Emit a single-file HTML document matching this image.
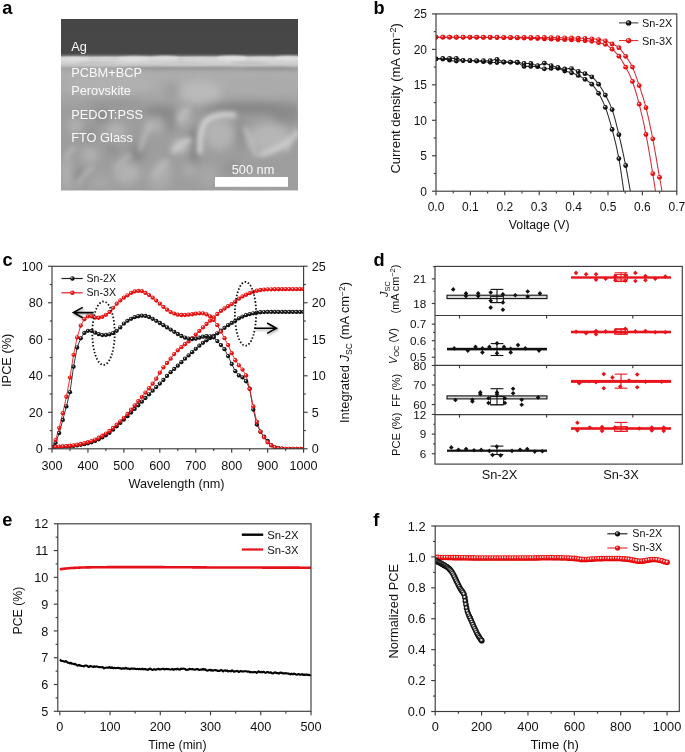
<!DOCTYPE html><html><head><meta charset="utf-8"><style>html,body{margin:0;padding:0;background:#fff;}svg{display:block;will-change:transform;}text{font-family:"Liberation Sans", sans-serif;}</style></head><body>
<svg width="685" height="752" viewBox="0 0 685 752">
<defs>
<radialGradient id="gB" cx="45%" cy="42%" r="60%" fx="36%" fy="33%"><stop offset="0" stop-color="#fff"/><stop offset="0.16" stop-color="#aaa"/><stop offset="0.36" stop-color="#222"/><stop offset="1" stop-color="#000"/></radialGradient>
<radialGradient id="gR" cx="45%" cy="42%" r="60%" fx="36%" fy="33%"><stop offset="0" stop-color="#fff"/><stop offset="0.16" stop-color="#ff9c9c"/><stop offset="0.38" stop-color="#ee1c1c"/><stop offset="1" stop-color="#d80000"/></radialGradient>
<radialGradient id="gBo" cx="45%" cy="42%" r="60%" fx="40%" fy="36%"><stop offset="0" stop-color="#fff"/><stop offset="0.22" stop-color="#ccc"/><stop offset="0.45" stop-color="#222"/><stop offset="1" stop-color="#000"/></radialGradient>
<radialGradient id="gRo" cx="45%" cy="42%" r="60%" fx="40%" fy="36%"><stop offset="0" stop-color="#fff"/><stop offset="0.22" stop-color="#ffb8b8"/><stop offset="0.45" stop-color="#ee1818"/><stop offset="1" stop-color="#dd0000"/></radialGradient>
<filter id="blur1" x="-20%" y="-20%" width="140%" height="140%"><feGaussianBlur stdDeviation="1.2"/></filter>
<filter id="blur2" x="-30%" y="-30%" width="160%" height="160%"><feGaussianBlur stdDeviation="2.5"/></filter>
<filter id="blur3" x="-30%" y="-30%" width="160%" height="160%"><feGaussianBlur stdDeviation="4"/></filter>
<filter id="shadow" x="-20%" y="-50%" width="160%" height="200%"><feGaussianBlur stdDeviation="1"/></filter>
<clipPath id="clipB"><rect x="436" y="13.9" width="240.8" height="177.3"/></clipPath>
<clipPath id="clipC"><rect x="52" y="266.3" width="251.6" height="182.5"/></clipPath>
<clipPath id="clipF"><rect x="435.2" y="400" width="250" height="311.5"/></clipPath>
<clipPath id="clipSEM"><rect x="61" y="19" width="237" height="171.5"/></clipPath>
</defs>
<text x="2.3" y="13.6" font-size="18.2" text-anchor="start" font-weight="bold" fill="#000">a</text>
<g clip-path="url(#clipSEM)">
<rect x="61" y="19" width="237" height="171.5" fill="#999"/>
<linearGradient id="semV" x1="0" y1="19" x2="0" y2="190.5" gradientUnits="userSpaceOnUse">
<stop offset="0" stop-color="#464646"/>
<stop offset="0.2" stop-color="#474747"/>
<stop offset="0.212" stop-color="#6e6e6e"/>
<stop offset="0.224" stop-color="#cdcdcd"/>
<stop offset="0.258" stop-color="#d0d0d0"/>
<stop offset="0.272" stop-color="#c2c2c2"/>
<stop offset="0.287" stop-color="#a4a4a4"/>
<stop offset="0.30" stop-color="#a8a8a8"/>
<stop offset="0.327" stop-color="#adadad"/>
<stop offset="0.414" stop-color="#aaa"/>
<stop offset="0.484" stop-color="#a2a2a2"/>
<stop offset="0.53" stop-color="#9d9d9d"/>
<stop offset="1" stop-color="#9e9e9e"/>
</linearGradient>
<rect x="61" y="19" width="237" height="171.5" fill="url(#semV)"/>
<g filter="url(#blur1)">
<ellipse cx="75" cy="59.5" rx="16" ry="2.4" fill="#dedede"/>
<ellipse cx="105" cy="60" rx="16" ry="2.2" fill="#d4d4d4"/>
<ellipse cx="135" cy="59" rx="18" ry="2.6" fill="#e0e0e0"/>
<ellipse cx="165" cy="58.5" rx="14" ry="2.4" fill="#dcdcdc"/>
<ellipse cx="200" cy="60" rx="18" ry="2.4" fill="#d4d4d4"/>
<ellipse cx="232" cy="58.5" rx="16" ry="2.8" fill="#e0e0e0"/>
<ellipse cx="262" cy="59.5" rx="14" ry="2.4" fill="#d8d8d8"/>
<ellipse cx="288" cy="58.5" rx="14" ry="2.6" fill="#dedede"/>
<ellipse cx="95" cy="63" rx="20" ry="1.8" fill="#c4c4c4"/>
<ellipse cx="185" cy="63.5" rx="25" ry="1.8" fill="#c8c8c8"/>
<ellipse cx="250" cy="63" rx="20" ry="1.8" fill="#c2c2c2"/>
<ellipse cx="190" cy="68.5" rx="75" ry="1.5" fill="#9a9a9a"/>
<ellipse cx="270" cy="68.8" rx="30" ry="1.6" fill="#969696"/>
</g>
<g filter="url(#blur3)">
<ellipse cx="200" cy="92" rx="22" ry="12" fill="#bababa"/>
<ellipse cx="110" cy="84" rx="45" ry="9" fill="#b1b1b1"/>
<ellipse cx="262" cy="86" rx="32" ry="9" fill="#ababab"/>
<ellipse cx="172" cy="92" rx="8" ry="10" fill="#9e9e9e"/>
<ellipse cx="250" cy="108" rx="50" ry="5" fill="#828282"/>
<ellipse cx="160" cy="112" rx="16" ry="6" fill="#878787"/>
<ellipse cx="115" cy="104" rx="30" ry="4" fill="#959595"/>
<ellipse cx="102" cy="116" rx="7" ry="7" fill="#888"/>
<ellipse cx="137" cy="153" rx="7" ry="10" fill="#868686"/>
<ellipse cx="170" cy="119" rx="5" ry="13" fill="#888"/>
<ellipse cx="78" cy="175" rx="6" ry="7" fill="#898989"/>
<ellipse cx="90" cy="135" rx="6" ry="8" fill="#8e8e8e"/>
<ellipse cx="150" cy="180" rx="8" ry="8" fill="#8e8e8e"/>
<ellipse cx="112" cy="150" rx="6" ry="6" fill="#8f8f8f"/>
<ellipse cx="75" cy="126" rx="7" ry="7" fill="#b4b4b4"/>
<ellipse cx="90" cy="155" rx="8" ry="8" fill="#b2b2b2"/>
<ellipse cx="116" cy="131" rx="10" ry="8" fill="#b4b4b4"/>
<ellipse cx="154" cy="125" rx="10" ry="8" fill="#b0b0b0"/>
<ellipse cx="67" cy="174" rx="6" ry="16" fill="#b0b0b0"/>
<ellipse cx="127" cy="173" rx="13" ry="11" fill="#b2b2b2"/>
<ellipse cx="158" cy="178" rx="13" ry="12" fill="#aaa"/>
<ellipse cx="100" cy="183" rx="10" ry="7" fill="#a8a8a8"/>
<ellipse cx="194" cy="146" rx="4.5" ry="20" fill="#7e7e7e"/>
<ellipse cx="285" cy="116" rx="14" ry="8" fill="#8c8c8c"/>
<ellipse cx="241" cy="133" rx="4" ry="16" fill="#8a8a8a"/>
<ellipse cx="219" cy="134" rx="15" ry="16" fill="#b3b3b3"/>
<ellipse cx="270" cy="138" rx="22" ry="15" fill="#b6b6b6"/>
<ellipse cx="184" cy="117" rx="7" ry="10" fill="#b3b3b3"/>
<ellipse cx="181" cy="146" rx="9" ry="6" fill="#c4c4c4"/>
<ellipse cx="255" cy="182" rx="22" ry="8" fill="#a4a4a4"/>
<ellipse cx="163" cy="168" rx="7" ry="8" fill="#b2b2b2"/>
<ellipse cx="208" cy="176" rx="9" ry="10" fill="#a8a8a8"/>
<ellipse cx="190" cy="170" rx="6" ry="6" fill="#b0b0b0"/>
<ellipse cx="232" cy="168" rx="8" ry="8" fill="#939393"/>
</g>
<g filter="url(#blur2)" fill="none" stroke-linecap="round">
<path d="M200 152 Q199 128 207 120 Q218 113 234 115" stroke="#d8d8d8" stroke-width="5"/>
<path d="M262 154 Q280 149 297 134" stroke="#d0d0d0" stroke-width="5"/>
<path d="M174 151 Q180 143 189 140" stroke="#cacaca" stroke-width="5"/>
<path d="M180 120 Q183 112 188 110" stroke="#c0c0c0" stroke-width="4"/>
<path d="M66 158 Q70 150 74 148" stroke="#bababa" stroke-width="3.5"/>
<path d="M140 150 Q144 135 150 125" stroke="#bcbcbc" stroke-width="3.5"/>
<path d="M78 184 Q84 174 92 168" stroke="#b8b8b8" stroke-width="3.5"/>
<path d="M116 168 Q122 160 130 155" stroke="#b6b6b6" stroke-width="3.5"/>
<path d="M155 176 Q160 167 166 162" stroke="#bababa" stroke-width="4"/>
<path d="M245 128 Q250 140 256 155" stroke="#c0c0c0" stroke-width="4"/>
<path d="M286 150 Q292 140 296 130" stroke="#c6c6c6" stroke-width="3"/>
</g>
</g>
<text x="71.2" y="50.9" font-size="12.8" text-anchor="start" font-weight="normal" fill="#fafafa">Ag</text>
<text x="71.2" y="76.8" font-size="12.8" text-anchor="start" font-weight="normal" fill="#fafafa">PCBM+BCP</text>
<text x="71.2" y="95.4" font-size="12.8" text-anchor="start" font-weight="normal" fill="#fafafa">Perovskite</text>
<text x="71.2" y="119" font-size="12.8" text-anchor="start" font-weight="normal" fill="#fafafa">PEDOT:PSS</text>
<text x="71.2" y="141.6" font-size="12.8" text-anchor="start" font-weight="normal" fill="#fafafa">FTO Glass</text>
<text x="274.4" y="173.9" font-size="12.8" text-anchor="end" font-weight="normal" fill="#f8f8f8">500 nm</text>
<rect x="215" y="177" width="73" height="9.8" fill="#fff"/>
<text x="373.5" y="13.6" font-size="18.2" text-anchor="start" font-weight="bold" fill="#000">b</text>
<g clip-path="url(#clipB)">
<polyline points="436,58.79 436.97,58.8 437.94,58.83 438.9,58.86 439.87,58.91 440.84,58.96 441.81,59.01 442.78,59.07 443.74,59.15 444.71,59.26 445.68,59.41 446.65,59.58 447.62,59.76 448.58,59.96 449.55,60.16 450.52,60.36 451.49,60.55 452.46,60.71 453.42,60.86 454.39,60.97 455.36,61.04 456.33,61.06 457.3,61.03 458.26,60.96 459.23,60.87 460.2,60.76 461.17,60.67 462.14,60.6 463.11,60.57 464.07,60.57 465.04,60.58 466.01,60.6 466.98,60.62 467.95,60.64 468.91,60.67 469.88,60.69 470.85,60.72 471.82,60.76 472.79,60.8 473.75,60.86 474.72,60.92 475.69,60.99 476.66,61.07 477.63,61.15 478.59,61.24 479.56,61.32 480.53,61.42 481.5,61.51 482.47,61.61 483.43,61.7 484.4,61.79 485.37,61.89 486.34,61.98 487.31,62.06 488.27,62.15 489.24,62.22 490.21,62.29 491.18,62.36 492.15,62.41 493.11,62.46 494.08,62.5 495.05,62.53 496.02,62.55 496.99,62.55 497.95,62.52 498.92,62.46 499.89,62.38 500.86,62.29 501.83,62.21 502.79,62.15 503.76,62.13 504.73,62.13 505.7,62.13 506.67,62.14 507.63,62.15 508.6,62.17 509.57,62.19 510.54,62.21 511.51,62.24 512.48,62.27 513.44,62.3 514.41,62.34 515.38,62.39 516.35,62.44 517.32,62.49 518.28,62.79 519.25,63.38 520.22,64.14 521.19,64.94 522.16,65.67 523.12,66.19 524.09,66.38 525.06,66.38 526.03,66.38 527,66.38 527.96,66.38 528.93,66.38 529.9,66.38 530.87,66.38 531.84,66.38 532.8,66.38 533.77,66.38 534.74,66.38 535.71,66.38 536.68,66.47 537.64,66.74 538.61,67.12 539.58,67.56 540.55,68.01 541.52,68.41 542.48,68.71 543.45,68.86 544.42,68.86 545.39,68.83 546.36,68.78 547.32,68.72 548.29,68.65 549.26,68.57 550.23,68.49 551.2,68.41 552.16,68.34 553.13,68.27 554.1,68.21 555.07,68.18 556.04,68.16 557.01,68.19 557.97,68.37 558.94,68.67 559.91,69.06 560.88,69.5 561.85,69.95 562.81,70.37 563.78,70.72 564.75,71 565.72,71.25 566.69,71.49 567.65,71.72 568.62,71.96 569.59,72.21 570.56,72.5 571.53,72.81 572.49,73.13 573.46,73.48 574.43,73.85 575.4,74.23 576.37,74.63 577.33,75.05 578.3,75.49 579.27,75.97 580.24,76.48 581.21,77.02 582.17,77.58 583.14,78.16 584.11,78.76 585.08,79.37 586.05,79.97 587.01,80.57 587.98,81.2 588.95,81.86 589.92,82.58 590.89,83.37 591.85,84.24 592.82,85.25 593.79,86.38 594.76,87.61 595.73,88.95 596.69,90.37 597.66,91.85 598.63,93.4 599.6,95.05 600.57,96.83 601.53,98.73 602.5,100.75 603.47,102.89 604.44,105.16 605.41,107.56 606.38,110.18 607.34,113.02 608.31,116.07 609.28,119.29 610.25,122.66 611.22,126.14 612.18,129.7 613.15,133.35 614.12,137.1 615.09,141.01 616.06,145.12 617.02,149.46 617.99,154.09 618.96,159.03 619.93,164.64 620.9,171.05 621.86,177.85 622.83,184.65 623.8,191.05 624.77,197.03 625.74,202.87 626.7,208.58 627.67,214.15 628.64,219.57" fill="none" stroke="#2a2a2a" stroke-width="1.05" stroke-linejoin="round"/>
<polyline points="436,58.79 437,58.74 438.01,58.69 439.01,58.64 440.01,58.6 441.01,58.55 442.02,58.52 443.02,58.48 444.02,58.45 445.02,58.42 446.03,58.4 447.03,58.38 448.03,58.37 449.03,58.37 450.04,58.37 451.04,58.37 452.04,58.37 453.04,58.37 454.05,58.37 455.05,58.37 456.05,58.37 457.05,58.43 458.06,58.67 459.06,59.04 460.06,59.45 461.07,59.85 462.07,60.17 463.07,60.35 464.07,60.4 465.08,60.44 466.08,60.47 467.08,60.5 468.08,60.53 469.09,60.55 470.09,60.56 471.09,60.57 472.09,60.59 473.1,60.6 474.1,60.61 475.1,60.62 476.1,60.63 477.11,60.64 478.11,60.65 479.11,60.66 480.11,60.67 481.12,60.67 482.12,60.68 483.12,60.69 484.13,60.69 485.13,60.7 486.13,60.7 487.13,60.7 488.14,60.71 489.14,60.71 490.14,60.71 491.14,60.6 492.15,60.38 493.15,60.09 494.15,59.78 495.15,59.51 496.16,59.33 497.16,59.3 498.16,59.53 499.16,59.96 500.17,60.51 501.17,61.09 502.17,61.58 503.18,61.91 504.18,62 505.18,62.02 506.18,62.05 507.19,62.06 508.19,62.07 509.19,62.08 510.19,62.09 511.2,62.1 512.2,62.11 513.2,62.12 514.2,62.13 515.21,62.15 516.21,62.17 517.21,62.2 518.21,62.29 519.22,62.48 520.22,62.72 521.22,62.98 522.22,63.2 523.23,63.36 524.23,63.4 525.23,63.4 526.24,63.4 527.24,63.4 528.24,63.4 529.24,63.4 530.25,63.4 531.25,63.46 532.25,63.73 533.25,64.15 534.26,64.64 535.26,65.11 536.26,65.48 537.26,65.67 538.27,65.58 539.27,65.26 540.27,64.78 541.27,64.24 542.28,63.73 543.28,63.35 544.28,63.19 545.28,63.28 546.29,63.55 547.29,63.95 548.29,64.41 549.3,64.89 550.3,65.34 551.3,65.69 552.3,65.97 553.31,66.23 554.31,66.47 555.31,66.7 556.31,66.94 557.32,67.18 558.32,67.46 559.32,67.8 560.32,68.16 561.33,68.51 562.33,68.79 563.33,68.97 564.33,69 565.34,68.95 566.34,68.86 567.34,68.74 568.34,68.64 569.35,68.55 570.35,68.51 571.35,68.58 572.36,68.81 573.36,69.18 574.36,69.62 575.36,70.12 576.37,70.61 577.37,71.07 578.37,71.45 579.37,71.79 580.38,72.12 581.38,72.45 582.38,72.77 583.38,73.11 584.39,73.47 585.39,73.85 586.39,74.23 587.39,74.61 588.4,75.02 589.4,75.46 590.4,75.97 591.41,76.54 592.41,77.25 593.41,78.12 594.41,79.12 595.42,80.24 596.42,81.44 597.42,82.69 598.42,83.97 599.43,85.31 600.43,86.76 601.43,88.31 602.43,89.95 603.44,91.65 604.44,93.42 605.44,95.25 606.44,97.1 607.45,99.01 608.45,101.01 609.45,103.13 610.45,105.41 611.46,107.87 612.46,110.57 613.46,113.65 614.47,117.1 615.47,120.84 616.47,124.78 617.47,128.86 618.48,132.99 619.48,137.12 620.48,141.37 621.48,145.76 622.49,150.3 623.49,154.97 624.49,159.78 625.49,164.71 626.5,169.86 627.5,175.28 628.5,180.85 629.5,186.47 630.51,192 631.51,197.5 632.51,203 633.51,208.51 634.52,214.04 635.52,219.57" fill="none" stroke="#2a2a2a" stroke-width="1.05" stroke-linejoin="round"/>
<polyline points="436,37.16 437.12,37.16 438.25,37.16 439.37,37.17 440.49,37.17 441.62,37.17 442.74,37.17 443.87,37.18 444.99,37.18 446.11,37.18 447.24,37.19 448.36,37.19 449.48,37.2 450.61,37.2 451.73,37.21 452.85,37.21 453.98,37.22 455.1,37.22 456.23,37.23 457.35,37.23 458.47,37.24 459.6,37.24 460.72,37.25 461.84,37.25 462.97,37.26 464.09,37.27 465.21,37.27 466.34,37.28 467.46,37.29 468.58,37.29 469.71,37.3 470.83,37.31 471.96,37.31 473.08,37.32 474.2,37.33 475.33,37.34 476.45,37.34 477.57,37.35 478.7,37.36 479.82,37.37 480.94,37.38 482.07,37.39 483.19,37.4 484.32,37.41 485.44,37.42 486.56,37.43 487.69,37.44 488.81,37.45 489.93,37.47 491.06,37.48 492.18,37.49 493.3,37.5 494.43,37.52 495.55,37.53 496.68,37.55 497.8,37.56 498.92,37.58 500.05,37.59 501.17,37.61 502.29,37.62 503.42,37.64 504.54,37.65 505.66,37.67 506.79,37.69 507.91,37.71 509.04,37.73 510.16,37.75 511.28,37.78 512.41,37.8 513.53,37.83 514.65,37.85 515.78,37.88 516.9,37.91 518.02,37.94 519.15,37.97 520.27,38 521.39,38.03 522.52,38.06 523.64,38.1 524.77,38.13 525.89,38.16 527.01,38.2 528.14,38.23 529.26,38.27 530.38,38.3 531.51,38.34 532.63,38.38 533.75,38.42 534.88,38.46 536,38.5 537.13,38.55 538.25,38.6 539.37,38.65 540.5,38.7 541.62,38.75 542.74,38.8 543.87,38.86 544.99,38.91 546.11,38.97 547.24,39.02 548.36,39.08 549.49,39.13 550.61,39.18 551.73,39.23 552.86,39.28 553.98,39.33 555.1,39.38 556.23,39.42 557.35,39.47 558.47,39.51 559.6,39.54 560.72,39.58 561.85,39.62 562.97,39.65 564.09,39.68 565.22,39.71 566.34,39.75 567.46,39.78 568.59,39.82 569.71,39.85 570.83,39.89 571.96,39.93 573.08,39.97 574.21,40.01 575.33,40.06 576.45,40.11 577.58,40.17 578.7,40.23 579.82,40.29 580.95,40.35 582.07,40.43 583.19,40.5 584.32,40.59 585.44,40.68 586.56,40.77 587.69,40.88 588.81,40.99 589.94,41.11 591.06,41.24 592.18,41.4 593.31,41.61 594.43,41.84 595.55,42.09 596.68,42.34 597.8,42.58 598.92,42.79 600.05,42.99 601.17,43.2 602.3,43.43 603.42,43.7 604.54,44.04 605.67,44.5 606.79,45.12 607.91,45.88 609.04,46.72 610.16,47.62 611.28,48.53 612.41,49.45 613.53,50.43 614.66,51.47 615.78,52.6 616.9,53.81 618.03,55.1 619.15,56.52 620.27,58.11 621.4,59.84 622.52,61.69 623.64,63.62 624.77,65.61 625.89,67.63 627.02,69.69 628.14,71.84 629.26,74.11 630.39,76.53 631.51,79.15 632.63,82.01 633.76,85.22 634.88,88.73 636,92.49 637.13,96.47 638.25,100.6 639.37,104.85 640.5,109.32 641.62,114.04 642.75,119 643.87,124.17 644.99,129.56 646.12,135.15 647.24,141.08 648.36,147.34 649.49,153.87 650.61,160.59 651.73,167.43 652.86,174.32 653.98,181.43 655.11,188.77 656.23,196.25 657.35,203.87 658.48,211.64 659.6,219.57" fill="none" stroke="#d22a3a" stroke-width="1.05" stroke-linejoin="round"/>
<polyline points="436,37.16 437.16,37.16 438.32,37.16 439.47,37.16 440.63,37.16 441.79,37.16 442.95,37.16 444.11,37.16 445.27,37.16 446.42,37.16 447.58,37.16 448.74,37.16 449.9,37.16 451.06,37.16 452.21,37.16 453.37,37.16 454.53,37.16 455.69,37.16 456.85,37.16 458.01,37.16 459.16,37.16 460.32,37.16 461.48,37.16 462.64,37.16 463.8,37.16 464.95,37.16 466.11,37.16 467.27,37.16 468.43,37.16 469.59,37.16 470.75,37.16 471.9,37.16 473.06,37.16 474.22,37.17 475.38,37.17 476.54,37.17 477.69,37.17 478.85,37.18 480.01,37.18 481.17,37.19 482.33,37.19 483.49,37.2 484.64,37.2 485.8,37.21 486.96,37.21 488.12,37.22 489.28,37.22 490.43,37.23 491.59,37.24 492.75,37.24 493.91,37.25 495.07,37.26 496.23,37.26 497.38,37.27 498.54,37.27 499.7,37.28 500.86,37.29 502.02,37.29 503.18,37.3 504.33,37.3 505.49,37.31 506.65,37.31 507.81,37.32 508.97,37.32 510.12,37.32 511.28,37.33 512.44,37.33 513.6,37.34 514.76,37.34 515.92,37.34 517.07,37.35 518.23,37.35 519.39,37.35 520.55,37.36 521.71,37.36 522.86,37.37 524.02,37.37 525.18,37.38 526.34,37.38 527.5,37.38 528.66,37.39 529.81,37.39 530.97,37.4 532.13,37.41 533.29,37.41 534.45,37.42 535.6,37.42 536.76,37.43 537.92,37.44 539.08,37.44 540.24,37.45 541.4,37.46 542.55,37.47 543.71,37.48 544.87,37.49 546.03,37.51 547.19,37.52 548.34,37.53 549.5,37.55 550.66,37.56 551.82,37.58 552.98,37.6 554.14,37.61 555.29,37.63 556.45,37.65 557.61,37.67 558.77,37.69 559.93,37.71 561.08,37.74 562.24,37.76 563.4,37.78 564.56,37.81 565.72,37.83 566.88,37.86 568.03,37.88 569.19,37.91 570.35,37.93 571.51,37.96 572.67,37.99 573.82,38.02 574.98,38.05 576.14,38.08 577.3,38.11 578.46,38.15 579.62,38.19 580.77,38.23 581.93,38.28 583.09,38.32 584.25,38.37 585.41,38.43 586.56,38.48 587.72,38.54 588.88,38.61 590.04,38.68 591.2,38.75 592.36,38.84 593.51,38.95 594.67,39.07 595.83,39.2 596.99,39.34 598.15,39.49 599.3,39.64 600.46,39.8 601.62,39.98 602.78,40.18 603.94,40.42 605.1,40.71 606.25,41.12 607.41,41.63 608.57,42.21 609.73,42.81 610.89,43.41 612.05,43.97 613.2,44.49 614.36,45.01 615.52,45.56 616.68,46.17 617.84,46.89 618.99,47.78 620.15,48.95 621.31,50.34 622.47,51.89 623.63,53.53 624.79,55.17 625.94,56.76 627.1,58.35 628.26,60 629.42,61.74 630.58,63.63 631.73,65.71 632.89,68.08 634.05,70.84 635.21,73.9 636.37,77.17 637.53,80.57 638.68,84.01 639.84,87.42 641,90.89 642.16,94.48 643.32,98.22 644.47,102.17 645.63,106.38 646.79,110.91 647.95,115.82 649.11,121.05 650.27,126.53 651.42,132.2 652.58,138.02 653.74,144.06 654.9,150.48 656.06,157.14 657.21,163.92 658.37,170.69 659.53,177.34 660.69,183.74 661.85,190.26 663.01,197.18 664.16,204.36 665.32,211.82 666.48,219.57" fill="none" stroke="#d22a3a" stroke-width="1.05" stroke-linejoin="round"/>
<circle cx="436" cy="58.79" r="2.4" fill="url(#gB)"/>
<circle cx="442.77" cy="59.07" r="2.4" fill="url(#gB)"/>
<circle cx="449.55" cy="60.16" r="2.4" fill="url(#gB)"/>
<circle cx="456.32" cy="61.06" r="2.4" fill="url(#gB)"/>
<circle cx="463.09" cy="60.57" r="2.4" fill="url(#gB)"/>
<circle cx="469.87" cy="60.69" r="2.4" fill="url(#gB)"/>
<circle cx="476.64" cy="61.07" r="2.4" fill="url(#gB)"/>
<circle cx="483.41" cy="61.7" r="2.4" fill="url(#gB)"/>
<circle cx="490.19" cy="62.29" r="2.4" fill="url(#gB)"/>
<circle cx="496.96" cy="62.55" r="2.4" fill="url(#gB)"/>
<circle cx="503.73" cy="62.13" r="2.4" fill="url(#gB)"/>
<circle cx="510.51" cy="62.21" r="2.4" fill="url(#gB)"/>
<circle cx="517.28" cy="62.49" r="2.4" fill="url(#gB)"/>
<circle cx="524.05" cy="66.38" r="2.4" fill="url(#gB)"/>
<circle cx="530.83" cy="66.38" r="2.4" fill="url(#gB)"/>
<circle cx="537.6" cy="66.72" r="2.4" fill="url(#gB)"/>
<circle cx="544.37" cy="68.86" r="2.4" fill="url(#gB)"/>
<circle cx="551.15" cy="68.42" r="2.4" fill="url(#gB)"/>
<circle cx="557.92" cy="68.36" r="2.4" fill="url(#gB)"/>
<circle cx="564.69" cy="70.98" r="2.4" fill="url(#gB)"/>
<circle cx="571.47" cy="72.79" r="2.4" fill="url(#gB)"/>
<circle cx="578.24" cy="75.47" r="2.4" fill="url(#gB)"/>
<circle cx="585.01" cy="79.33" r="2.4" fill="url(#gB)"/>
<circle cx="591.79" cy="84.18" r="2.4" fill="url(#gB)"/>
<circle cx="598.56" cy="93.29" r="2.4" fill="url(#gB)"/>
<circle cx="605.33" cy="107.38" r="2.4" fill="url(#gB)"/>
<circle cx="612.11" cy="129.42" r="2.4" fill="url(#gB)"/>
<circle cx="618.88" cy="158.61" r="2.4" fill="url(#gB)"/>
<circle cx="436" cy="58.79" r="2.4" fill="url(#gB)"/>
<circle cx="442.77" cy="58.49" r="2.4" fill="url(#gB)"/>
<circle cx="449.55" cy="58.37" r="2.4" fill="url(#gB)"/>
<circle cx="456.32" cy="58.37" r="2.4" fill="url(#gB)"/>
<circle cx="463.09" cy="60.35" r="2.4" fill="url(#gB)"/>
<circle cx="469.87" cy="60.56" r="2.4" fill="url(#gB)"/>
<circle cx="476.64" cy="60.64" r="2.4" fill="url(#gB)"/>
<circle cx="483.41" cy="60.69" r="2.4" fill="url(#gB)"/>
<circle cx="490.19" cy="60.7" r="2.4" fill="url(#gB)"/>
<circle cx="496.96" cy="59.29" r="2.4" fill="url(#gB)"/>
<circle cx="503.73" cy="61.98" r="2.4" fill="url(#gB)"/>
<circle cx="510.51" cy="62.09" r="2.4" fill="url(#gB)"/>
<circle cx="517.28" cy="62.2" r="2.4" fill="url(#gB)"/>
<circle cx="524.05" cy="63.4" r="2.4" fill="url(#gB)"/>
<circle cx="530.83" cy="63.41" r="2.4" fill="url(#gB)"/>
<circle cx="537.6" cy="65.67" r="2.4" fill="url(#gB)"/>
<circle cx="544.37" cy="63.19" r="2.4" fill="url(#gB)"/>
<circle cx="551.15" cy="65.64" r="2.4" fill="url(#gB)"/>
<circle cx="557.92" cy="67.34" r="2.4" fill="url(#gB)"/>
<circle cx="564.69" cy="68.99" r="2.4" fill="url(#gB)"/>
<circle cx="571.47" cy="68.6" r="2.4" fill="url(#gB)"/>
<circle cx="578.24" cy="71.4" r="2.4" fill="url(#gB)"/>
<circle cx="585.01" cy="73.71" r="2.4" fill="url(#gB)"/>
<circle cx="591.79" cy="76.79" r="2.4" fill="url(#gB)"/>
<circle cx="598.56" cy="84.15" r="2.4" fill="url(#gB)"/>
<circle cx="605.33" cy="95.05" r="2.4" fill="url(#gB)"/>
<circle cx="612.11" cy="109.59" r="2.4" fill="url(#gB)"/>
<circle cx="618.88" cy="134.65" r="2.4" fill="url(#gB)"/>
<circle cx="625.65" cy="165.51" r="2.4" fill="url(#gB)"/>
<circle cx="436" cy="37.16" r="2.4" fill="url(#gR)"/>
<circle cx="442.77" cy="37.17" r="2.4" fill="url(#gR)"/>
<circle cx="449.55" cy="37.2" r="2.4" fill="url(#gR)"/>
<circle cx="456.32" cy="37.23" r="2.4" fill="url(#gR)"/>
<circle cx="463.09" cy="37.26" r="2.4" fill="url(#gR)"/>
<circle cx="469.87" cy="37.3" r="2.4" fill="url(#gR)"/>
<circle cx="476.64" cy="37.35" r="2.4" fill="url(#gR)"/>
<circle cx="483.41" cy="37.4" r="2.4" fill="url(#gR)"/>
<circle cx="490.19" cy="37.47" r="2.4" fill="url(#gR)"/>
<circle cx="496.96" cy="37.55" r="2.4" fill="url(#gR)"/>
<circle cx="503.73" cy="37.64" r="2.4" fill="url(#gR)"/>
<circle cx="510.51" cy="37.76" r="2.4" fill="url(#gR)"/>
<circle cx="517.28" cy="37.92" r="2.4" fill="url(#gR)"/>
<circle cx="524.05" cy="38.11" r="2.4" fill="url(#gR)"/>
<circle cx="530.83" cy="38.32" r="2.4" fill="url(#gR)"/>
<circle cx="537.6" cy="38.57" r="2.4" fill="url(#gR)"/>
<circle cx="544.37" cy="38.88" r="2.4" fill="url(#gR)"/>
<circle cx="551.15" cy="39.21" r="2.4" fill="url(#gR)"/>
<circle cx="557.92" cy="39.49" r="2.4" fill="url(#gR)"/>
<circle cx="564.69" cy="39.7" r="2.4" fill="url(#gR)"/>
<circle cx="571.47" cy="39.91" r="2.4" fill="url(#gR)"/>
<circle cx="578.24" cy="40.2" r="2.4" fill="url(#gR)"/>
<circle cx="585.01" cy="40.64" r="2.4" fill="url(#gR)"/>
<circle cx="591.79" cy="41.34" r="2.4" fill="url(#gR)"/>
<circle cx="598.56" cy="42.72" r="2.4" fill="url(#gR)"/>
<circle cx="605.33" cy="44.34" r="2.4" fill="url(#gR)"/>
<circle cx="612.11" cy="49.19" r="2.4" fill="url(#gR)"/>
<circle cx="618.88" cy="56.17" r="2.4" fill="url(#gR)"/>
<circle cx="625.65" cy="67.2" r="2.4" fill="url(#gR)"/>
<circle cx="632.43" cy="81.46" r="2.4" fill="url(#gR)"/>
<circle cx="639.2" cy="104.18" r="2.4" fill="url(#gR)"/>
<circle cx="645.97" cy="134.43" r="2.4" fill="url(#gR)"/>
<circle cx="652.75" cy="173.64" r="2.4" fill="url(#gR)"/>
<circle cx="436" cy="37.16" r="2.4" fill="url(#gR)"/>
<circle cx="442.77" cy="37.16" r="2.4" fill="url(#gR)"/>
<circle cx="449.55" cy="37.16" r="2.4" fill="url(#gR)"/>
<circle cx="456.32" cy="37.16" r="2.4" fill="url(#gR)"/>
<circle cx="463.09" cy="37.16" r="2.4" fill="url(#gR)"/>
<circle cx="469.87" cy="37.16" r="2.4" fill="url(#gR)"/>
<circle cx="476.64" cy="37.17" r="2.4" fill="url(#gR)"/>
<circle cx="483.41" cy="37.19" r="2.4" fill="url(#gR)"/>
<circle cx="490.19" cy="37.23" r="2.4" fill="url(#gR)"/>
<circle cx="496.96" cy="37.27" r="2.4" fill="url(#gR)"/>
<circle cx="503.73" cy="37.3" r="2.4" fill="url(#gR)"/>
<circle cx="510.51" cy="37.33" r="2.4" fill="url(#gR)"/>
<circle cx="517.28" cy="37.35" r="2.4" fill="url(#gR)"/>
<circle cx="524.05" cy="37.37" r="2.4" fill="url(#gR)"/>
<circle cx="530.83" cy="37.4" r="2.4" fill="url(#gR)"/>
<circle cx="537.6" cy="37.44" r="2.4" fill="url(#gR)"/>
<circle cx="544.37" cy="37.49" r="2.4" fill="url(#gR)"/>
<circle cx="551.15" cy="37.57" r="2.4" fill="url(#gR)"/>
<circle cx="557.92" cy="37.68" r="2.4" fill="url(#gR)"/>
<circle cx="564.69" cy="37.81" r="2.4" fill="url(#gR)"/>
<circle cx="571.47" cy="37.96" r="2.4" fill="url(#gR)"/>
<circle cx="578.24" cy="38.14" r="2.4" fill="url(#gR)"/>
<circle cx="585.01" cy="38.41" r="2.4" fill="url(#gR)"/>
<circle cx="591.79" cy="38.79" r="2.4" fill="url(#gR)"/>
<circle cx="598.56" cy="39.54" r="2.4" fill="url(#gR)"/>
<circle cx="605.33" cy="40.79" r="2.4" fill="url(#gR)"/>
<circle cx="612.11" cy="44" r="2.4" fill="url(#gR)"/>
<circle cx="618.88" cy="47.68" r="2.4" fill="url(#gR)"/>
<circle cx="625.65" cy="56.37" r="2.4" fill="url(#gR)"/>
<circle cx="632.43" cy="67.08" r="2.4" fill="url(#gR)"/>
<circle cx="639.2" cy="85.53" r="2.4" fill="url(#gR)"/>
<circle cx="645.97" cy="107.67" r="2.4" fill="url(#gR)"/>
<circle cx="652.75" cy="138.86" r="2.4" fill="url(#gR)"/>
<circle cx="659.52" cy="177.28" r="2.4" fill="url(#gR)"/>
</g>
<rect x="436" y="13.9" width="240.8" height="177.3" fill="none" stroke="#3c3c3c" stroke-width="1.15"/>
<line x1="432" y1="191.2" x2="436" y2="191.2" stroke="#3c3c3c" stroke-width="1.15"/>
<text x="427" y="195.5" font-size="12" text-anchor="end" font-weight="normal" fill="#111">0</text>
<line x1="432" y1="155.74" x2="436" y2="155.74" stroke="#3c3c3c" stroke-width="1.15"/>
<text x="427" y="160.04" font-size="12" text-anchor="end" font-weight="normal" fill="#111">5</text>
<line x1="432" y1="120.28" x2="436" y2="120.28" stroke="#3c3c3c" stroke-width="1.15"/>
<text x="427" y="124.58" font-size="12" text-anchor="end" font-weight="normal" fill="#111">10</text>
<line x1="432" y1="84.82" x2="436" y2="84.82" stroke="#3c3c3c" stroke-width="1.15"/>
<text x="427" y="89.12" font-size="12" text-anchor="end" font-weight="normal" fill="#111">15</text>
<line x1="432" y1="49.36" x2="436" y2="49.36" stroke="#3c3c3c" stroke-width="1.15"/>
<text x="427" y="53.66" font-size="12" text-anchor="end" font-weight="normal" fill="#111">20</text>
<line x1="432" y1="13.9" x2="436" y2="13.9" stroke="#3c3c3c" stroke-width="1.15"/>
<text x="427" y="18.2" font-size="12" text-anchor="end" font-weight="normal" fill="#111">25</text>
<line x1="433.8" y1="173.47" x2="436" y2="173.47" stroke="#3c3c3c" stroke-width="1.15"/>
<line x1="433.8" y1="138.01" x2="436" y2="138.01" stroke="#3c3c3c" stroke-width="1.15"/>
<line x1="433.8" y1="102.55" x2="436" y2="102.55" stroke="#3c3c3c" stroke-width="1.15"/>
<line x1="433.8" y1="67.09" x2="436" y2="67.09" stroke="#3c3c3c" stroke-width="1.15"/>
<line x1="433.8" y1="31.63" x2="436" y2="31.63" stroke="#3c3c3c" stroke-width="1.15"/>
<line x1="436" y1="191.2" x2="436" y2="195.2" stroke="#3c3c3c" stroke-width="1.15"/>
<text x="436" y="211.2" font-size="12" text-anchor="middle" font-weight="normal" fill="#111">0.0</text>
<line x1="470.4" y1="191.2" x2="470.4" y2="195.2" stroke="#3c3c3c" stroke-width="1.15"/>
<text x="470.4" y="211.2" font-size="12" text-anchor="middle" font-weight="normal" fill="#111">0.1</text>
<line x1="504.8" y1="191.2" x2="504.8" y2="195.2" stroke="#3c3c3c" stroke-width="1.15"/>
<text x="504.8" y="211.2" font-size="12" text-anchor="middle" font-weight="normal" fill="#111">0.2</text>
<line x1="539.2" y1="191.2" x2="539.2" y2="195.2" stroke="#3c3c3c" stroke-width="1.15"/>
<text x="539.2" y="211.2" font-size="12" text-anchor="middle" font-weight="normal" fill="#111">0.3</text>
<line x1="573.6" y1="191.2" x2="573.6" y2="195.2" stroke="#3c3c3c" stroke-width="1.15"/>
<text x="573.6" y="211.2" font-size="12" text-anchor="middle" font-weight="normal" fill="#111">0.4</text>
<line x1="608" y1="191.2" x2="608" y2="195.2" stroke="#3c3c3c" stroke-width="1.15"/>
<text x="608" y="211.2" font-size="12" text-anchor="middle" font-weight="normal" fill="#111">0.5</text>
<line x1="642.4" y1="191.2" x2="642.4" y2="195.2" stroke="#3c3c3c" stroke-width="1.15"/>
<text x="642.4" y="211.2" font-size="12" text-anchor="middle" font-weight="normal" fill="#111">0.6</text>
<line x1="676.8" y1="191.2" x2="676.8" y2="195.2" stroke="#3c3c3c" stroke-width="1.15"/>
<text x="676.8" y="211.2" font-size="12" text-anchor="middle" font-weight="normal" fill="#111">0.7</text>
<line x1="453.2" y1="191.2" x2="453.2" y2="193.4" stroke="#3c3c3c" stroke-width="1.15"/>
<line x1="487.6" y1="191.2" x2="487.6" y2="193.4" stroke="#3c3c3c" stroke-width="1.15"/>
<line x1="522" y1="191.2" x2="522" y2="193.4" stroke="#3c3c3c" stroke-width="1.15"/>
<line x1="556.4" y1="191.2" x2="556.4" y2="193.4" stroke="#3c3c3c" stroke-width="1.15"/>
<line x1="590.8" y1="191.2" x2="590.8" y2="193.4" stroke="#3c3c3c" stroke-width="1.15"/>
<line x1="625.2" y1="191.2" x2="625.2" y2="193.4" stroke="#3c3c3c" stroke-width="1.15"/>
<line x1="659.6" y1="191.2" x2="659.6" y2="193.4" stroke="#3c3c3c" stroke-width="1.15"/>
<text x="539.2" y="228.9" font-size="12.3" text-anchor="middle" font-weight="normal" fill="#111">Voltage (V)</text>
<text x="400.5" y="98.4" font-size="13" text-anchor="middle" font-weight="normal" fill="#111" transform="rotate(-90 400.5 98.4)">Current density (mA cm<tspan font-size="9" dy="-4.8">−2</tspan><tspan dy="4.8">)</tspan></text>
<line x1="619" y1="22.9" x2="638.3" y2="22.9" stroke="#333" stroke-width="1"/>
<circle cx="628.6" cy="22.9" r="2.7" fill="url(#gB)"/>
<text x="642" y="27" font-size="10.9" text-anchor="start" font-weight="normal" fill="#111">Sn-2X</text>
<line x1="619" y1="40.6" x2="638.3" y2="40.6" stroke="#e31e24" stroke-width="1"/>
<circle cx="628.6" cy="40.6" r="2.7" fill="url(#gR)"/>
<text x="642" y="44.7" font-size="10.9" text-anchor="start" font-weight="normal" fill="#111">Sn-3X</text>
<text x="2.5" y="265.5" font-size="18.2" text-anchor="start" font-weight="bold" fill="#000">c</text>
<g clip-path="url(#clipC)">
<polyline points="52,446.97 55.59,446.94 59.19,446.83 62.78,446.67 66.38,446.47 69.97,446.24 73.56,445.93 77.16,445.46 80.75,444.85 84.35,444.14 87.94,443.32 91.53,442.29 95.13,440.93 98.72,439.29 102.32,437.44 105.91,435.37 109.5,432.76 113.1,429.68 116.69,426.35 120.29,422.94 123.88,419.6 127.47,416.14 131.07,412.55 134.66,408.91 138.26,405.26 141.85,401.65 145.44,398.01 149.04,394.34 152.63,390.69 156.23,387.08 159.82,383.57 163.41,380.02 167.01,375.94 170.6,372.19 174.2,368.97 177.79,365.65 181.38,362.13 184.98,358.71 188.57,355.43 192.17,352.15 195.76,348.79 199.35,345.67 202.95,342.81 206.54,340.25 210.14,338.1 213.73,335.87 217.32,333.35 220.92,330.7 224.51,327.83 228.11,325.15 231.7,322.96 235.29,320.78 238.89,318.3 242.48,316.53 246.08,315.17 249.67,314.14 253.26,313.35 256.86,312.69 260.45,312.25 264.05,312.05 267.64,311.96 271.23,311.96 274.83,311.96 278.42,311.96 282.02,311.96 285.61,311.96 289.2,311.96 292.8,311.96 296.39,311.96 299.99,311.96 303.58,311.96" fill="none" stroke="#222" stroke-width="0.9" stroke-linejoin="round"/>
<polyline points="52,446.97 55.59,446.89 59.19,446.7 62.78,446.42 66.38,446.09 69.97,445.73 73.56,445.29 77.16,444.71 80.75,444 84.35,443.17 87.94,442.23 91.53,441.05 95.13,439.54 98.72,437.75 102.32,435.76 105.91,433.58 109.5,430.99 113.1,428.02 116.69,424.77 120.29,421.34 123.88,417.79 127.47,413.91 131.07,409.76 134.66,405.45 138.26,401.09 141.85,396.81 145.44,392.57 149.04,388.25 152.63,383.68 156.23,378.7 159.82,372.66 163.41,367.28 167.01,362.99 170.6,358.65 174.2,354.1 177.79,350.29 181.38,347.19 184.98,344.23 188.57,341.39 192.17,338.26 195.76,334.56 199.35,330.9 202.95,327.4 206.54,323.99 210.14,320.71 213.73,317.43 217.32,314.01 220.92,310.97 224.51,308.48 228.11,306.18 231.7,304.08 235.29,301.76 238.89,298.63 242.48,296.47 246.08,294.73 249.67,293.13 253.26,291.81 256.86,290.73 260.45,289.98 264.05,289.54 267.64,289.32 271.23,289.29 274.83,289.26 278.42,289.24 282.02,289.22 285.61,289.21 289.2,289.2 292.8,289.19 296.39,289.18 299.99,289.18 303.58,289.18" fill="none" stroke="#e31e24" stroke-width="0.9" stroke-linejoin="round"/>
<polyline points="52,447.89 55.59,442.78 59.19,433.1 62.78,419.96 66.38,406.45 69.97,392.21 73.56,366.65 77.16,347.48 80.75,338.36 84.35,332.88 87.94,330.87 91.53,330.87 95.13,332.7 98.72,334.16 102.32,335.07 105.91,334.89 109.5,334.34 113.1,333.06 116.69,330.87 120.29,327.4 123.88,323.57 127.47,320.83 131.07,318.82 134.66,317.18 138.26,316.27 141.85,315.72 145.44,315.9 149.04,317 152.63,318.82 156.23,320.83 159.82,323.02 163.41,325.21 167.01,327.4 170.6,329.59 174.2,331.79 177.79,333.98 181.38,335.98 184.98,337.63 188.57,338.54 192.17,339.09 195.76,338.72 199.35,337.63 202.95,336.71 206.54,336.17 210.14,336.35 213.73,337.44 217.32,341.1 220.92,345.11 224.51,349.13 228.11,356.06 231.7,363.91 235.29,371.22 238.89,375.41 242.48,377.42 246.08,381.26 249.67,388.56 253.26,409.55 256.86,424.52 260.45,431.64 264.05,436.57 267.64,440.95 271.23,445.15 274.83,447.52 278.42,448.25 282.02,448.62 285.61,448.8 289.2,448.8 292.8,448.8 296.39,448.8 299.99,448.8 303.58,448.8" fill="none" stroke="#222" stroke-width="0.9" stroke-linejoin="round"/>
<polyline points="52,447.89 55.59,440.04 59.19,427.81 62.78,413.2 66.38,396.77 69.97,377.61 73.56,354.79 77.16,337.44 80.75,325.58 84.35,319.19 87.94,316.45 91.53,316.27 95.13,317.55 98.72,317.73 102.32,316.82 105.91,314.81 109.5,311.89 113.1,307.87 116.69,303.67 120.29,300.39 123.88,297.65 127.47,295.28 131.07,292.9 134.66,291.44 138.26,290.89 141.85,291.08 145.44,292.9 149.04,295.09 152.63,297.65 156.23,300.57 159.82,303.67 163.41,306.96 167.01,309.7 170.6,312.07 174.2,313.53 177.79,314.63 181.38,314.99 184.98,314.99 188.57,314.63 192.17,314.26 195.76,313.71 199.35,313.35 202.95,313.35 206.54,314.44 210.14,316.45 213.73,319.92 217.32,325.21 220.92,331.6 224.51,338.17 228.11,345.11 231.7,353.14 235.29,360.26 238.89,365.37 242.48,369.57 246.08,375.41 249.67,388.92 253.26,406.45 256.86,421.78 260.45,431.64 264.05,437.3 267.64,442.41 271.23,445.33 274.83,447.34 278.42,448.25 282.02,448.62 285.61,448.8 289.2,448.8 292.8,448.8 296.39,448.8 299.99,448.8 303.58,448.8" fill="none" stroke="#e31e24" stroke-width="0.9" stroke-linejoin="round"/>
<circle cx="52" cy="446.97" r="2.15" fill="url(#gB)"/>
<circle cx="55.59" cy="446.94" r="2.15" fill="url(#gB)"/>
<circle cx="59.19" cy="446.83" r="2.15" fill="url(#gB)"/>
<circle cx="62.78" cy="446.67" r="2.15" fill="url(#gB)"/>
<circle cx="66.38" cy="446.47" r="2.15" fill="url(#gB)"/>
<circle cx="69.97" cy="446.24" r="2.15" fill="url(#gB)"/>
<circle cx="73.56" cy="445.93" r="2.15" fill="url(#gB)"/>
<circle cx="77.16" cy="445.46" r="2.15" fill="url(#gB)"/>
<circle cx="80.75" cy="444.85" r="2.15" fill="url(#gB)"/>
<circle cx="84.35" cy="444.14" r="2.15" fill="url(#gB)"/>
<circle cx="87.94" cy="443.32" r="2.15" fill="url(#gB)"/>
<circle cx="91.53" cy="442.29" r="2.15" fill="url(#gB)"/>
<circle cx="95.13" cy="440.93" r="2.15" fill="url(#gB)"/>
<circle cx="98.72" cy="439.29" r="2.15" fill="url(#gB)"/>
<circle cx="102.32" cy="437.44" r="2.15" fill="url(#gB)"/>
<circle cx="105.91" cy="435.37" r="2.15" fill="url(#gB)"/>
<circle cx="109.5" cy="432.76" r="2.15" fill="url(#gB)"/>
<circle cx="113.1" cy="429.68" r="2.15" fill="url(#gB)"/>
<circle cx="116.69" cy="426.35" r="2.15" fill="url(#gB)"/>
<circle cx="120.29" cy="422.94" r="2.15" fill="url(#gB)"/>
<circle cx="123.88" cy="419.6" r="2.15" fill="url(#gB)"/>
<circle cx="127.47" cy="416.14" r="2.15" fill="url(#gB)"/>
<circle cx="131.07" cy="412.55" r="2.15" fill="url(#gB)"/>
<circle cx="134.66" cy="408.91" r="2.15" fill="url(#gB)"/>
<circle cx="138.26" cy="405.26" r="2.15" fill="url(#gB)"/>
<circle cx="141.85" cy="401.65" r="2.15" fill="url(#gB)"/>
<circle cx="145.44" cy="398.01" r="2.15" fill="url(#gB)"/>
<circle cx="149.04" cy="394.34" r="2.15" fill="url(#gB)"/>
<circle cx="152.63" cy="390.69" r="2.15" fill="url(#gB)"/>
<circle cx="156.23" cy="387.08" r="2.15" fill="url(#gB)"/>
<circle cx="159.82" cy="383.57" r="2.15" fill="url(#gB)"/>
<circle cx="163.41" cy="380.02" r="2.15" fill="url(#gB)"/>
<circle cx="167.01" cy="375.94" r="2.15" fill="url(#gB)"/>
<circle cx="170.6" cy="372.19" r="2.15" fill="url(#gB)"/>
<circle cx="174.2" cy="368.97" r="2.15" fill="url(#gB)"/>
<circle cx="177.79" cy="365.65" r="2.15" fill="url(#gB)"/>
<circle cx="181.38" cy="362.13" r="2.15" fill="url(#gB)"/>
<circle cx="184.98" cy="358.71" r="2.15" fill="url(#gB)"/>
<circle cx="188.57" cy="355.43" r="2.15" fill="url(#gB)"/>
<circle cx="192.17" cy="352.15" r="2.15" fill="url(#gB)"/>
<circle cx="195.76" cy="348.79" r="2.15" fill="url(#gB)"/>
<circle cx="199.35" cy="345.67" r="2.15" fill="url(#gB)"/>
<circle cx="202.95" cy="342.81" r="2.15" fill="url(#gB)"/>
<circle cx="206.54" cy="340.25" r="2.15" fill="url(#gB)"/>
<circle cx="210.14" cy="338.1" r="2.15" fill="url(#gB)"/>
<circle cx="213.73" cy="335.87" r="2.15" fill="url(#gB)"/>
<circle cx="217.32" cy="333.35" r="2.15" fill="url(#gB)"/>
<circle cx="220.92" cy="330.7" r="2.15" fill="url(#gB)"/>
<circle cx="224.51" cy="327.83" r="2.15" fill="url(#gB)"/>
<circle cx="228.11" cy="325.15" r="2.15" fill="url(#gB)"/>
<circle cx="231.7" cy="322.96" r="2.15" fill="url(#gB)"/>
<circle cx="235.29" cy="320.78" r="2.15" fill="url(#gB)"/>
<circle cx="238.89" cy="318.3" r="2.15" fill="url(#gB)"/>
<circle cx="242.48" cy="316.53" r="2.15" fill="url(#gB)"/>
<circle cx="246.08" cy="315.17" r="2.15" fill="url(#gB)"/>
<circle cx="249.67" cy="314.14" r="2.15" fill="url(#gB)"/>
<circle cx="253.26" cy="313.35" r="2.15" fill="url(#gB)"/>
<circle cx="256.86" cy="312.69" r="2.15" fill="url(#gB)"/>
<circle cx="260.45" cy="312.25" r="2.15" fill="url(#gB)"/>
<circle cx="264.05" cy="312.05" r="2.15" fill="url(#gB)"/>
<circle cx="267.64" cy="311.96" r="2.15" fill="url(#gB)"/>
<circle cx="271.23" cy="311.96" r="2.15" fill="url(#gB)"/>
<circle cx="274.83" cy="311.96" r="2.15" fill="url(#gB)"/>
<circle cx="278.42" cy="311.96" r="2.15" fill="url(#gB)"/>
<circle cx="282.02" cy="311.96" r="2.15" fill="url(#gB)"/>
<circle cx="285.61" cy="311.96" r="2.15" fill="url(#gB)"/>
<circle cx="289.2" cy="311.96" r="2.15" fill="url(#gB)"/>
<circle cx="292.8" cy="311.96" r="2.15" fill="url(#gB)"/>
<circle cx="296.39" cy="311.96" r="2.15" fill="url(#gB)"/>
<circle cx="299.99" cy="311.96" r="2.15" fill="url(#gB)"/>
<circle cx="303.58" cy="311.96" r="2.15" fill="url(#gB)"/>
<circle cx="52" cy="446.97" r="2.15" fill="url(#gR)"/>
<circle cx="55.59" cy="446.89" r="2.15" fill="url(#gR)"/>
<circle cx="59.19" cy="446.7" r="2.15" fill="url(#gR)"/>
<circle cx="62.78" cy="446.42" r="2.15" fill="url(#gR)"/>
<circle cx="66.38" cy="446.09" r="2.15" fill="url(#gR)"/>
<circle cx="69.97" cy="445.73" r="2.15" fill="url(#gR)"/>
<circle cx="73.56" cy="445.29" r="2.15" fill="url(#gR)"/>
<circle cx="77.16" cy="444.71" r="2.15" fill="url(#gR)"/>
<circle cx="80.75" cy="444" r="2.15" fill="url(#gR)"/>
<circle cx="84.35" cy="443.17" r="2.15" fill="url(#gR)"/>
<circle cx="87.94" cy="442.23" r="2.15" fill="url(#gR)"/>
<circle cx="91.53" cy="441.05" r="2.15" fill="url(#gR)"/>
<circle cx="95.13" cy="439.54" r="2.15" fill="url(#gR)"/>
<circle cx="98.72" cy="437.75" r="2.15" fill="url(#gR)"/>
<circle cx="102.32" cy="435.76" r="2.15" fill="url(#gR)"/>
<circle cx="105.91" cy="433.58" r="2.15" fill="url(#gR)"/>
<circle cx="109.5" cy="430.99" r="2.15" fill="url(#gR)"/>
<circle cx="113.1" cy="428.02" r="2.15" fill="url(#gR)"/>
<circle cx="116.69" cy="424.77" r="2.15" fill="url(#gR)"/>
<circle cx="120.29" cy="421.34" r="2.15" fill="url(#gR)"/>
<circle cx="123.88" cy="417.79" r="2.15" fill="url(#gR)"/>
<circle cx="127.47" cy="413.91" r="2.15" fill="url(#gR)"/>
<circle cx="131.07" cy="409.76" r="2.15" fill="url(#gR)"/>
<circle cx="134.66" cy="405.45" r="2.15" fill="url(#gR)"/>
<circle cx="138.26" cy="401.09" r="2.15" fill="url(#gR)"/>
<circle cx="141.85" cy="396.81" r="2.15" fill="url(#gR)"/>
<circle cx="145.44" cy="392.57" r="2.15" fill="url(#gR)"/>
<circle cx="149.04" cy="388.25" r="2.15" fill="url(#gR)"/>
<circle cx="152.63" cy="383.68" r="2.15" fill="url(#gR)"/>
<circle cx="156.23" cy="378.7" r="2.15" fill="url(#gR)"/>
<circle cx="159.82" cy="372.66" r="2.15" fill="url(#gR)"/>
<circle cx="163.41" cy="367.28" r="2.15" fill="url(#gR)"/>
<circle cx="167.01" cy="362.99" r="2.15" fill="url(#gR)"/>
<circle cx="170.6" cy="358.65" r="2.15" fill="url(#gR)"/>
<circle cx="174.2" cy="354.1" r="2.15" fill="url(#gR)"/>
<circle cx="177.79" cy="350.29" r="2.15" fill="url(#gR)"/>
<circle cx="181.38" cy="347.19" r="2.15" fill="url(#gR)"/>
<circle cx="184.98" cy="344.23" r="2.15" fill="url(#gR)"/>
<circle cx="188.57" cy="341.39" r="2.15" fill="url(#gR)"/>
<circle cx="192.17" cy="338.26" r="2.15" fill="url(#gR)"/>
<circle cx="195.76" cy="334.56" r="2.15" fill="url(#gR)"/>
<circle cx="199.35" cy="330.9" r="2.15" fill="url(#gR)"/>
<circle cx="202.95" cy="327.4" r="2.15" fill="url(#gR)"/>
<circle cx="206.54" cy="323.99" r="2.15" fill="url(#gR)"/>
<circle cx="210.14" cy="320.71" r="2.15" fill="url(#gR)"/>
<circle cx="213.73" cy="317.43" r="2.15" fill="url(#gR)"/>
<circle cx="217.32" cy="314.01" r="2.15" fill="url(#gR)"/>
<circle cx="220.92" cy="310.97" r="2.15" fill="url(#gR)"/>
<circle cx="224.51" cy="308.48" r="2.15" fill="url(#gR)"/>
<circle cx="228.11" cy="306.18" r="2.15" fill="url(#gR)"/>
<circle cx="231.7" cy="304.08" r="2.15" fill="url(#gR)"/>
<circle cx="235.29" cy="301.76" r="2.15" fill="url(#gR)"/>
<circle cx="238.89" cy="298.63" r="2.15" fill="url(#gR)"/>
<circle cx="242.48" cy="296.47" r="2.15" fill="url(#gR)"/>
<circle cx="246.08" cy="294.73" r="2.15" fill="url(#gR)"/>
<circle cx="249.67" cy="293.13" r="2.15" fill="url(#gR)"/>
<circle cx="253.26" cy="291.81" r="2.15" fill="url(#gR)"/>
<circle cx="256.86" cy="290.73" r="2.15" fill="url(#gR)"/>
<circle cx="260.45" cy="289.98" r="2.15" fill="url(#gR)"/>
<circle cx="264.05" cy="289.54" r="2.15" fill="url(#gR)"/>
<circle cx="267.64" cy="289.32" r="2.15" fill="url(#gR)"/>
<circle cx="271.23" cy="289.29" r="2.15" fill="url(#gR)"/>
<circle cx="274.83" cy="289.26" r="2.15" fill="url(#gR)"/>
<circle cx="278.42" cy="289.24" r="2.15" fill="url(#gR)"/>
<circle cx="282.02" cy="289.22" r="2.15" fill="url(#gR)"/>
<circle cx="285.61" cy="289.21" r="2.15" fill="url(#gR)"/>
<circle cx="289.2" cy="289.2" r="2.15" fill="url(#gR)"/>
<circle cx="292.8" cy="289.19" r="2.15" fill="url(#gR)"/>
<circle cx="296.39" cy="289.18" r="2.15" fill="url(#gR)"/>
<circle cx="299.99" cy="289.18" r="2.15" fill="url(#gR)"/>
<circle cx="303.58" cy="289.18" r="2.15" fill="url(#gR)"/>
<circle cx="52" cy="447.89" r="2.15" fill="url(#gB)"/>
<circle cx="55.59" cy="442.78" r="2.15" fill="url(#gB)"/>
<circle cx="59.19" cy="433.1" r="2.15" fill="url(#gB)"/>
<circle cx="62.78" cy="419.96" r="2.15" fill="url(#gB)"/>
<circle cx="66.38" cy="406.45" r="2.15" fill="url(#gB)"/>
<circle cx="69.97" cy="392.21" r="2.15" fill="url(#gB)"/>
<circle cx="73.56" cy="366.65" r="2.15" fill="url(#gB)"/>
<circle cx="77.16" cy="347.48" r="2.15" fill="url(#gB)"/>
<circle cx="80.75" cy="338.36" r="2.15" fill="url(#gB)"/>
<circle cx="84.35" cy="332.88" r="2.15" fill="url(#gB)"/>
<circle cx="87.94" cy="330.87" r="2.15" fill="url(#gB)"/>
<circle cx="91.53" cy="330.87" r="2.15" fill="url(#gB)"/>
<circle cx="95.13" cy="332.7" r="2.15" fill="url(#gB)"/>
<circle cx="98.72" cy="334.16" r="2.15" fill="url(#gB)"/>
<circle cx="102.32" cy="335.07" r="2.15" fill="url(#gB)"/>
<circle cx="105.91" cy="334.89" r="2.15" fill="url(#gB)"/>
<circle cx="109.5" cy="334.34" r="2.15" fill="url(#gB)"/>
<circle cx="113.1" cy="333.06" r="2.15" fill="url(#gB)"/>
<circle cx="116.69" cy="330.87" r="2.15" fill="url(#gB)"/>
<circle cx="120.29" cy="327.4" r="2.15" fill="url(#gB)"/>
<circle cx="123.88" cy="323.57" r="2.15" fill="url(#gB)"/>
<circle cx="127.47" cy="320.83" r="2.15" fill="url(#gB)"/>
<circle cx="131.07" cy="318.82" r="2.15" fill="url(#gB)"/>
<circle cx="134.66" cy="317.18" r="2.15" fill="url(#gB)"/>
<circle cx="138.26" cy="316.27" r="2.15" fill="url(#gB)"/>
<circle cx="141.85" cy="315.72" r="2.15" fill="url(#gB)"/>
<circle cx="145.44" cy="315.9" r="2.15" fill="url(#gB)"/>
<circle cx="149.04" cy="317" r="2.15" fill="url(#gB)"/>
<circle cx="152.63" cy="318.82" r="2.15" fill="url(#gB)"/>
<circle cx="156.23" cy="320.83" r="2.15" fill="url(#gB)"/>
<circle cx="159.82" cy="323.02" r="2.15" fill="url(#gB)"/>
<circle cx="163.41" cy="325.21" r="2.15" fill="url(#gB)"/>
<circle cx="167.01" cy="327.4" r="2.15" fill="url(#gB)"/>
<circle cx="170.6" cy="329.59" r="2.15" fill="url(#gB)"/>
<circle cx="174.2" cy="331.79" r="2.15" fill="url(#gB)"/>
<circle cx="177.79" cy="333.98" r="2.15" fill="url(#gB)"/>
<circle cx="181.38" cy="335.98" r="2.15" fill="url(#gB)"/>
<circle cx="184.98" cy="337.63" r="2.15" fill="url(#gB)"/>
<circle cx="188.57" cy="338.54" r="2.15" fill="url(#gB)"/>
<circle cx="192.17" cy="339.09" r="2.15" fill="url(#gB)"/>
<circle cx="195.76" cy="338.72" r="2.15" fill="url(#gB)"/>
<circle cx="199.35" cy="337.63" r="2.15" fill="url(#gB)"/>
<circle cx="202.95" cy="336.71" r="2.15" fill="url(#gB)"/>
<circle cx="206.54" cy="336.17" r="2.15" fill="url(#gB)"/>
<circle cx="210.14" cy="336.35" r="2.15" fill="url(#gB)"/>
<circle cx="213.73" cy="337.44" r="2.15" fill="url(#gB)"/>
<circle cx="217.32" cy="341.1" r="2.15" fill="url(#gB)"/>
<circle cx="220.92" cy="345.11" r="2.15" fill="url(#gB)"/>
<circle cx="224.51" cy="349.13" r="2.15" fill="url(#gB)"/>
<circle cx="228.11" cy="356.06" r="2.15" fill="url(#gB)"/>
<circle cx="231.7" cy="363.91" r="2.15" fill="url(#gB)"/>
<circle cx="235.29" cy="371.22" r="2.15" fill="url(#gB)"/>
<circle cx="238.89" cy="375.41" r="2.15" fill="url(#gB)"/>
<circle cx="242.48" cy="377.42" r="2.15" fill="url(#gB)"/>
<circle cx="246.08" cy="381.26" r="2.15" fill="url(#gB)"/>
<circle cx="249.67" cy="388.56" r="2.15" fill="url(#gB)"/>
<circle cx="253.26" cy="409.55" r="2.15" fill="url(#gB)"/>
<circle cx="256.86" cy="424.52" r="2.15" fill="url(#gB)"/>
<circle cx="260.45" cy="431.64" r="2.15" fill="url(#gB)"/>
<circle cx="264.05" cy="436.57" r="2.15" fill="url(#gB)"/>
<circle cx="267.64" cy="440.95" r="2.15" fill="url(#gB)"/>
<circle cx="271.23" cy="445.15" r="2.15" fill="url(#gB)"/>
<circle cx="274.83" cy="447.52" r="2.15" fill="url(#gB)"/>
<circle cx="278.42" cy="448.25" r="2.15" fill="url(#gB)"/>
<circle cx="282.02" cy="448.62" r="2.15" fill="url(#gB)"/>
<circle cx="285.61" cy="448.8" r="2.15" fill="url(#gB)"/>
<circle cx="289.2" cy="448.8" r="2.15" fill="url(#gB)"/>
<circle cx="292.8" cy="448.8" r="2.15" fill="url(#gB)"/>
<circle cx="296.39" cy="448.8" r="2.15" fill="url(#gB)"/>
<circle cx="299.99" cy="448.8" r="2.15" fill="url(#gB)"/>
<circle cx="303.58" cy="448.8" r="2.15" fill="url(#gB)"/>
<circle cx="52" cy="447.89" r="2.15" fill="url(#gR)"/>
<circle cx="55.59" cy="440.04" r="2.15" fill="url(#gR)"/>
<circle cx="59.19" cy="427.81" r="2.15" fill="url(#gR)"/>
<circle cx="62.78" cy="413.2" r="2.15" fill="url(#gR)"/>
<circle cx="66.38" cy="396.77" r="2.15" fill="url(#gR)"/>
<circle cx="69.97" cy="377.61" r="2.15" fill="url(#gR)"/>
<circle cx="73.56" cy="354.79" r="2.15" fill="url(#gR)"/>
<circle cx="77.16" cy="337.44" r="2.15" fill="url(#gR)"/>
<circle cx="80.75" cy="325.58" r="2.15" fill="url(#gR)"/>
<circle cx="84.35" cy="319.19" r="2.15" fill="url(#gR)"/>
<circle cx="87.94" cy="316.45" r="2.15" fill="url(#gR)"/>
<circle cx="91.53" cy="316.27" r="2.15" fill="url(#gR)"/>
<circle cx="95.13" cy="317.55" r="2.15" fill="url(#gR)"/>
<circle cx="98.72" cy="317.73" r="2.15" fill="url(#gR)"/>
<circle cx="102.32" cy="316.82" r="2.15" fill="url(#gR)"/>
<circle cx="105.91" cy="314.81" r="2.15" fill="url(#gR)"/>
<circle cx="109.5" cy="311.89" r="2.15" fill="url(#gR)"/>
<circle cx="113.1" cy="307.87" r="2.15" fill="url(#gR)"/>
<circle cx="116.69" cy="303.67" r="2.15" fill="url(#gR)"/>
<circle cx="120.29" cy="300.39" r="2.15" fill="url(#gR)"/>
<circle cx="123.88" cy="297.65" r="2.15" fill="url(#gR)"/>
<circle cx="127.47" cy="295.28" r="2.15" fill="url(#gR)"/>
<circle cx="131.07" cy="292.9" r="2.15" fill="url(#gR)"/>
<circle cx="134.66" cy="291.44" r="2.15" fill="url(#gR)"/>
<circle cx="138.26" cy="290.89" r="2.15" fill="url(#gR)"/>
<circle cx="141.85" cy="291.08" r="2.15" fill="url(#gR)"/>
<circle cx="145.44" cy="292.9" r="2.15" fill="url(#gR)"/>
<circle cx="149.04" cy="295.09" r="2.15" fill="url(#gR)"/>
<circle cx="152.63" cy="297.65" r="2.15" fill="url(#gR)"/>
<circle cx="156.23" cy="300.57" r="2.15" fill="url(#gR)"/>
<circle cx="159.82" cy="303.67" r="2.15" fill="url(#gR)"/>
<circle cx="163.41" cy="306.96" r="2.15" fill="url(#gR)"/>
<circle cx="167.01" cy="309.7" r="2.15" fill="url(#gR)"/>
<circle cx="170.6" cy="312.07" r="2.15" fill="url(#gR)"/>
<circle cx="174.2" cy="313.53" r="2.15" fill="url(#gR)"/>
<circle cx="177.79" cy="314.63" r="2.15" fill="url(#gR)"/>
<circle cx="181.38" cy="314.99" r="2.15" fill="url(#gR)"/>
<circle cx="184.98" cy="314.99" r="2.15" fill="url(#gR)"/>
<circle cx="188.57" cy="314.63" r="2.15" fill="url(#gR)"/>
<circle cx="192.17" cy="314.26" r="2.15" fill="url(#gR)"/>
<circle cx="195.76" cy="313.71" r="2.15" fill="url(#gR)"/>
<circle cx="199.35" cy="313.35" r="2.15" fill="url(#gR)"/>
<circle cx="202.95" cy="313.35" r="2.15" fill="url(#gR)"/>
<circle cx="206.54" cy="314.44" r="2.15" fill="url(#gR)"/>
<circle cx="210.14" cy="316.45" r="2.15" fill="url(#gR)"/>
<circle cx="213.73" cy="319.92" r="2.15" fill="url(#gR)"/>
<circle cx="217.32" cy="325.21" r="2.15" fill="url(#gR)"/>
<circle cx="220.92" cy="331.6" r="2.15" fill="url(#gR)"/>
<circle cx="224.51" cy="338.17" r="2.15" fill="url(#gR)"/>
<circle cx="228.11" cy="345.11" r="2.15" fill="url(#gR)"/>
<circle cx="231.7" cy="353.14" r="2.15" fill="url(#gR)"/>
<circle cx="235.29" cy="360.26" r="2.15" fill="url(#gR)"/>
<circle cx="238.89" cy="365.37" r="2.15" fill="url(#gR)"/>
<circle cx="242.48" cy="369.57" r="2.15" fill="url(#gR)"/>
<circle cx="246.08" cy="375.41" r="2.15" fill="url(#gR)"/>
<circle cx="249.67" cy="388.92" r="2.15" fill="url(#gR)"/>
<circle cx="253.26" cy="406.45" r="2.15" fill="url(#gR)"/>
<circle cx="256.86" cy="421.78" r="2.15" fill="url(#gR)"/>
<circle cx="260.45" cy="431.64" r="2.15" fill="url(#gR)"/>
<circle cx="264.05" cy="437.3" r="2.15" fill="url(#gR)"/>
<circle cx="267.64" cy="442.41" r="2.15" fill="url(#gR)"/>
<circle cx="271.23" cy="445.33" r="2.15" fill="url(#gR)"/>
<circle cx="274.83" cy="447.34" r="2.15" fill="url(#gR)"/>
<circle cx="278.42" cy="448.25" r="2.15" fill="url(#gR)"/>
<circle cx="282.02" cy="448.62" r="2.15" fill="url(#gR)"/>
<circle cx="285.61" cy="448.8" r="2.15" fill="url(#gR)"/>
<circle cx="289.2" cy="448.8" r="2.15" fill="url(#gR)"/>
<circle cx="292.8" cy="448.8" r="2.15" fill="url(#gR)"/>
<circle cx="296.39" cy="448.8" r="2.15" fill="url(#gR)"/>
<circle cx="299.99" cy="448.8" r="2.15" fill="url(#gR)"/>
<circle cx="303.58" cy="448.8" r="2.15" fill="url(#gR)"/>
</g>
<rect x="52" y="266.3" width="251.6" height="182.5" fill="none" stroke="#3c3c3c" stroke-width="1.15"/>
<line x1="48" y1="448.8" x2="52" y2="448.8" stroke="#3c3c3c" stroke-width="1.15"/>
<text x="42.8" y="453.2" font-size="12.6" text-anchor="end" font-weight="normal" fill="#111">0</text>
<line x1="303.6" y1="448.8" x2="307.6" y2="448.8" stroke="#3c3c3c" stroke-width="1.15"/>
<text x="311.8" y="453.2" font-size="12.6" text-anchor="start" font-weight="normal" fill="#111">0</text>
<line x1="48" y1="412.29" x2="52" y2="412.29" stroke="#3c3c3c" stroke-width="1.15"/>
<text x="42.8" y="416.69" font-size="12.6" text-anchor="end" font-weight="normal" fill="#111">20</text>
<line x1="303.6" y1="412.29" x2="307.6" y2="412.29" stroke="#3c3c3c" stroke-width="1.15"/>
<text x="311.8" y="416.69" font-size="12.6" text-anchor="start" font-weight="normal" fill="#111">5</text>
<line x1="48" y1="375.78" x2="52" y2="375.78" stroke="#3c3c3c" stroke-width="1.15"/>
<text x="42.8" y="380.18" font-size="12.6" text-anchor="end" font-weight="normal" fill="#111">40</text>
<line x1="303.6" y1="375.78" x2="307.6" y2="375.78" stroke="#3c3c3c" stroke-width="1.15"/>
<text x="311.8" y="380.18" font-size="12.6" text-anchor="start" font-weight="normal" fill="#111">10</text>
<line x1="48" y1="339.27" x2="52" y2="339.27" stroke="#3c3c3c" stroke-width="1.15"/>
<text x="42.8" y="343.67" font-size="12.6" text-anchor="end" font-weight="normal" fill="#111">60</text>
<line x1="303.6" y1="339.27" x2="307.6" y2="339.27" stroke="#3c3c3c" stroke-width="1.15"/>
<text x="311.8" y="343.67" font-size="12.6" text-anchor="start" font-weight="normal" fill="#111">15</text>
<line x1="48" y1="302.76" x2="52" y2="302.76" stroke="#3c3c3c" stroke-width="1.15"/>
<text x="42.8" y="307.16" font-size="12.6" text-anchor="end" font-weight="normal" fill="#111">80</text>
<line x1="303.6" y1="302.76" x2="307.6" y2="302.76" stroke="#3c3c3c" stroke-width="1.15"/>
<text x="311.8" y="307.16" font-size="12.6" text-anchor="start" font-weight="normal" fill="#111">20</text>
<line x1="48" y1="266.25" x2="52" y2="266.25" stroke="#3c3c3c" stroke-width="1.15"/>
<text x="42.8" y="270.65" font-size="12.6" text-anchor="end" font-weight="normal" fill="#111">100</text>
<line x1="303.6" y1="266.25" x2="307.6" y2="266.25" stroke="#3c3c3c" stroke-width="1.15"/>
<text x="311.8" y="270.65" font-size="12.6" text-anchor="start" font-weight="normal" fill="#111">25</text>
<line x1="49.8" y1="430.55" x2="52" y2="430.55" stroke="#3c3c3c" stroke-width="1.15"/>
<line x1="303.6" y1="430.55" x2="305.8" y2="430.55" stroke="#3c3c3c" stroke-width="1.15"/>
<line x1="49.8" y1="394.04" x2="52" y2="394.04" stroke="#3c3c3c" stroke-width="1.15"/>
<line x1="303.6" y1="394.04" x2="305.8" y2="394.04" stroke="#3c3c3c" stroke-width="1.15"/>
<line x1="49.8" y1="357.53" x2="52" y2="357.53" stroke="#3c3c3c" stroke-width="1.15"/>
<line x1="303.6" y1="357.53" x2="305.8" y2="357.53" stroke="#3c3c3c" stroke-width="1.15"/>
<line x1="49.8" y1="321.01" x2="52" y2="321.01" stroke="#3c3c3c" stroke-width="1.15"/>
<line x1="303.6" y1="321.01" x2="305.8" y2="321.01" stroke="#3c3c3c" stroke-width="1.15"/>
<line x1="49.8" y1="284.5" x2="52" y2="284.5" stroke="#3c3c3c" stroke-width="1.15"/>
<line x1="303.6" y1="284.5" x2="305.8" y2="284.5" stroke="#3c3c3c" stroke-width="1.15"/>
<line x1="52" y1="448.8" x2="52" y2="452.8" stroke="#3c3c3c" stroke-width="1.15"/>
<text x="52" y="469.7" font-size="12.6" text-anchor="middle" font-weight="normal" fill="#111">300</text>
<line x1="87.94" y1="448.8" x2="87.94" y2="452.8" stroke="#3c3c3c" stroke-width="1.15"/>
<text x="87.94" y="469.7" font-size="12.6" text-anchor="middle" font-weight="normal" fill="#111">400</text>
<line x1="123.88" y1="448.8" x2="123.88" y2="452.8" stroke="#3c3c3c" stroke-width="1.15"/>
<text x="123.88" y="469.7" font-size="12.6" text-anchor="middle" font-weight="normal" fill="#111">500</text>
<line x1="159.82" y1="448.8" x2="159.82" y2="452.8" stroke="#3c3c3c" stroke-width="1.15"/>
<text x="159.82" y="469.7" font-size="12.6" text-anchor="middle" font-weight="normal" fill="#111">600</text>
<line x1="195.76" y1="448.8" x2="195.76" y2="452.8" stroke="#3c3c3c" stroke-width="1.15"/>
<text x="195.76" y="469.7" font-size="12.6" text-anchor="middle" font-weight="normal" fill="#111">700</text>
<line x1="231.7" y1="448.8" x2="231.7" y2="452.8" stroke="#3c3c3c" stroke-width="1.15"/>
<text x="231.7" y="469.7" font-size="12.6" text-anchor="middle" font-weight="normal" fill="#111">800</text>
<line x1="267.64" y1="448.8" x2="267.64" y2="452.8" stroke="#3c3c3c" stroke-width="1.15"/>
<text x="267.64" y="469.7" font-size="12.6" text-anchor="middle" font-weight="normal" fill="#111">900</text>
<line x1="303.58" y1="448.8" x2="303.58" y2="452.8" stroke="#3c3c3c" stroke-width="1.15"/>
<text x="303.58" y="469.7" font-size="12.6" text-anchor="middle" font-weight="normal" fill="#111">1000</text>
<line x1="69.97" y1="448.8" x2="69.97" y2="451" stroke="#3c3c3c" stroke-width="1.15"/>
<line x1="105.91" y1="448.8" x2="105.91" y2="451" stroke="#3c3c3c" stroke-width="1.15"/>
<line x1="141.85" y1="448.8" x2="141.85" y2="451" stroke="#3c3c3c" stroke-width="1.15"/>
<line x1="177.79" y1="448.8" x2="177.79" y2="451" stroke="#3c3c3c" stroke-width="1.15"/>
<line x1="213.73" y1="448.8" x2="213.73" y2="451" stroke="#3c3c3c" stroke-width="1.15"/>
<line x1="249.67" y1="448.8" x2="249.67" y2="451" stroke="#3c3c3c" stroke-width="1.15"/>
<line x1="285.61" y1="448.8" x2="285.61" y2="451" stroke="#3c3c3c" stroke-width="1.15"/>
<text x="176.5" y="488.2" font-size="12.7" text-anchor="middle" font-weight="normal" fill="#111">Wavelength (nm)</text>
<text x="10.6" y="360.3" font-size="12.8" text-anchor="middle" font-weight="normal" fill="#111" transform="rotate(-90 10.6 360.3)">IPCE (%)</text>
<text x="349.2" y="352.5" font-size="12.9" text-anchor="middle" font-weight="normal" fill="#111" transform="rotate(-90 349.2 352.5)">Integrated <tspan font-style="italic">J</tspan><tspan font-size="8.5" dy="2.5">SC</tspan><tspan dy="-2.5"> (mA cm</tspan><tspan font-size="8.5" dy="-4.5">−2</tspan><tspan dy="4.5">)</tspan></text>
<line x1="61.5" y1="278.5" x2="82.7" y2="278.5" stroke="#222" stroke-width="1.2"/>
<circle cx="72.4" cy="278.5" r="2.2" fill="url(#gB)"/>
<text x="86.5" y="282" font-size="10.6" text-anchor="start" font-weight="normal" fill="#111">Sn-2X</text>
<line x1="61.5" y1="292.8" x2="82.7" y2="292.8" stroke="#e31e24" stroke-width="1.2"/>
<circle cx="72.4" cy="292.8" r="2.2" fill="url(#gR)"/>
<text x="86.5" y="296.3" font-size="10.6" text-anchor="start" font-weight="normal" fill="#111">Sn-3X</text>
<ellipse cx="103.5" cy="333.2" rx="11.2" ry="31.7" fill="none" stroke="#111" stroke-width="1.8" stroke-dasharray="1.5 1.9"/>
<ellipse cx="245.5" cy="313.8" rx="10.6" ry="31.9" fill="none" stroke="#111" stroke-width="1.8" stroke-dasharray="1.5 1.9"/>
<g filter="url(#shadow)" opacity="0.45" transform="translate(1.2,1.4)">
<path d="M93.6 312.6 L73.6 312.6 M82.7 307.4 L73.4 312.6 L82.7 317.8" stroke="#555" stroke-width="1.8" fill="none"/>
<path d="M254.5 328.2 L276.2 328.2 M267.1 323.0 L276.4 328.2 L267.1 333.4" stroke="#555" stroke-width="1.8" fill="none"/>
</g>
<path d="M93.6 312.6 L73.6 312.6 M82.7 307.4 L73.4 312.6 L82.7 317.8" stroke="#000" stroke-width="1.6" fill="none"/>
<path d="M254.5 328.2 L276.2 328.2 M267.1 323.0 L276.4 328.2 L267.1 333.4" stroke="#000" stroke-width="1.6" fill="none"/>
<text x="373.6" y="265.5" font-size="18.2" text-anchor="start" font-weight="bold" fill="#000">d</text>
<rect x="435" y="266.4" width="247.3" height="197.7" fill="none" stroke="#3c3c3c" stroke-width="1.15"/>
<line x1="435" y1="315.5" x2="682.3" y2="315.5" stroke="#3c3c3c" stroke-width="1.15"/>
<line x1="435" y1="365.3" x2="682.3" y2="365.3" stroke="#3c3c3c" stroke-width="1.15"/>
<line x1="435" y1="414.6" x2="682.3" y2="414.6" stroke="#3c3c3c" stroke-width="1.15"/>
<line x1="459.5" y1="315.5" x2="459.5" y2="318.5" stroke="#3c3c3c" stroke-width="1.15"/>
<line x1="546.6" y1="315.5" x2="546.6" y2="318.5" stroke="#3c3c3c" stroke-width="1.15"/>
<line x1="632.8" y1="315.5" x2="632.8" y2="318.5" stroke="#3c3c3c" stroke-width="1.15"/>
<line x1="459.5" y1="365.3" x2="459.5" y2="368.3" stroke="#3c3c3c" stroke-width="1.15"/>
<line x1="546.6" y1="365.3" x2="546.6" y2="368.3" stroke="#3c3c3c" stroke-width="1.15"/>
<line x1="632.8" y1="365.3" x2="632.8" y2="368.3" stroke="#3c3c3c" stroke-width="1.15"/>
<line x1="459.5" y1="414.6" x2="459.5" y2="417.6" stroke="#3c3c3c" stroke-width="1.15"/>
<line x1="546.6" y1="414.6" x2="546.6" y2="417.6" stroke="#3c3c3c" stroke-width="1.15"/>
<line x1="632.8" y1="414.6" x2="632.8" y2="417.6" stroke="#3c3c3c" stroke-width="1.15"/>
<line x1="431.8" y1="278.9" x2="435" y2="278.9" stroke="#3c3c3c" stroke-width="1.15"/>
<text x="426.2" y="283" font-size="11.7" text-anchor="end" font-weight="normal" fill="#111">21</text>
<line x1="431.8" y1="303.5" x2="435" y2="303.5" stroke="#3c3c3c" stroke-width="1.15"/>
<text x="426.2" y="307.6" font-size="11.7" text-anchor="end" font-weight="normal" fill="#111">18</text>
<line x1="433.2" y1="291.2" x2="435" y2="291.2" stroke="#3c3c3c" stroke-width="1.15"/>
<line x1="433.2" y1="266.6" x2="435" y2="266.6" stroke="#3c3c3c" stroke-width="1.15"/>
<line x1="431.8" y1="324.15" x2="435" y2="324.15" stroke="#3c3c3c" stroke-width="1.15"/>
<text x="426.2" y="328.25" font-size="11.7" text-anchor="end" font-weight="normal" fill="#111">0.7</text>
<line x1="431.8" y1="340.7" x2="435" y2="340.7" stroke="#3c3c3c" stroke-width="1.15"/>
<text x="426.2" y="344.8" font-size="11.7" text-anchor="end" font-weight="normal" fill="#111">0.6</text>
<line x1="431.8" y1="357.25" x2="435" y2="357.25" stroke="#3c3c3c" stroke-width="1.15"/>
<text x="426.2" y="361.35" font-size="11.7" text-anchor="end" font-weight="normal" fill="#111">0.5</text>
<line x1="433.2" y1="332.42" x2="435" y2="332.42" stroke="#3c3c3c" stroke-width="1.15"/>
<line x1="433.2" y1="348.97" x2="435" y2="348.97" stroke="#3c3c3c" stroke-width="1.15"/>
<line x1="431.8" y1="365.45" x2="435" y2="365.45" stroke="#3c3c3c" stroke-width="1.15"/>
<text x="426.2" y="369.55" font-size="11.7" text-anchor="end" font-weight="normal" fill="#111">80</text>
<line x1="431.8" y1="385" x2="435" y2="385" stroke="#3c3c3c" stroke-width="1.15"/>
<text x="426.2" y="389.1" font-size="11.7" text-anchor="end" font-weight="normal" fill="#111">70</text>
<line x1="431.8" y1="404.55" x2="435" y2="404.55" stroke="#3c3c3c" stroke-width="1.15"/>
<text x="426.2" y="408.65" font-size="11.7" text-anchor="end" font-weight="normal" fill="#111">60</text>
<line x1="433.2" y1="375.23" x2="435" y2="375.23" stroke="#3c3c3c" stroke-width="1.15"/>
<line x1="433.2" y1="394.77" x2="435" y2="394.77" stroke="#3c3c3c" stroke-width="1.15"/>
<line x1="431.8" y1="414.45" x2="435" y2="414.45" stroke="#3c3c3c" stroke-width="1.15"/>
<text x="426.2" y="418.55" font-size="11.7" text-anchor="end" font-weight="normal" fill="#111">12</text>
<line x1="431.8" y1="434.1" x2="435" y2="434.1" stroke="#3c3c3c" stroke-width="1.15"/>
<text x="426.2" y="438.2" font-size="11.7" text-anchor="end" font-weight="normal" fill="#111">9</text>
<line x1="431.8" y1="453.75" x2="435" y2="453.75" stroke="#3c3c3c" stroke-width="1.15"/>
<text x="426.2" y="457.85" font-size="11.7" text-anchor="end" font-weight="normal" fill="#111">6</text>
<line x1="433.2" y1="424.28" x2="435" y2="424.28" stroke="#3c3c3c" stroke-width="1.15"/>
<line x1="433.2" y1="443.93" x2="435" y2="443.93" stroke="#3c3c3c" stroke-width="1.15"/>
<rect x="447" y="295.2" width="100" height="3.4" fill="#d8d8d8" stroke="#111" stroke-width="1.1"/>
<line x1="497" y1="289.4" x2="497" y2="302.6" stroke="#111" stroke-width="1.1"/>
<line x1="490.6" y1="289.4" x2="503.4" y2="289.4" stroke="#111" stroke-width="1.1"/>
<line x1="490.6" y1="302.6" x2="503.4" y2="302.6" stroke="#111" stroke-width="1.1"/>
<rect x="490.6" y="296.5" width="12.8" height="6.1" fill="none" stroke="#111" stroke-width="0.9"/>
<path d="M453.2 287.1 L455.5 289.4 L453.2 291.7 L450.9 289.4 Z" fill="#111"/>
<path d="M466 291.1 L468.3 293.4 L466 295.7 L463.7 293.4 Z" fill="#111"/>
<path d="M466 293.8 L468.3 296.1 L466 298.4 L463.7 296.1 Z" fill="#111"/>
<path d="M478.2 291.1 L480.5 293.4 L478.2 295.7 L475.9 293.4 Z" fill="#111"/>
<path d="M478.2 293.8 L480.5 296.1 L478.2 298.4 L475.9 296.1 Z" fill="#111"/>
<path d="M490.7 290.2 L493 292.5 L490.7 294.8 L488.4 292.5 Z" fill="#111"/>
<path d="M490.7 298.4 L493 300.7 L490.7 303 L488.4 300.7 Z" fill="#111"/>
<path d="M490.7 305.3 L493 307.6 L490.7 309.9 L488.4 307.6 Z" fill="#111"/>
<path d="M502.9 292 L505.2 294.3 L502.9 296.6 L500.6 294.3 Z" fill="#111"/>
<path d="M502.9 300.2 L505.2 302.5 L502.9 304.8 L500.6 302.5 Z" fill="#111"/>
<path d="M502.9 307.5 L505.2 309.8 L502.9 312.1 L500.6 309.8 Z" fill="#111"/>
<path d="M515.3 292.9 L517.6 295.2 L515.3 297.5 L513 295.2 Z" fill="#111"/>
<path d="M527.7 289.2 L530 291.5 L527.7 293.8 L525.4 291.5 Z" fill="#111"/>
<path d="M527.7 294.4 L530 296.7 L527.7 299 L525.4 296.7 Z" fill="#111"/>
<path d="M539.9 291.1 L542.2 293.4 L539.9 295.7 L537.6 293.4 Z" fill="#111"/>
<rect x="571" y="276.3" width="100" height="2.4" fill="#e8141c"/>
<line x1="621" y1="272.8" x2="621" y2="281.5" stroke="#e8141c" stroke-width="1.1"/>
<line x1="614.6" y1="272.8" x2="627.4" y2="272.8" stroke="#e8141c" stroke-width="1.1"/>
<line x1="614.6" y1="281.5" x2="627.4" y2="281.5" stroke="#e8141c" stroke-width="1.1"/>
<rect x="614.6" y="274.5" width="12.8" height="5.5" fill="none" stroke="#e8141c" stroke-width="0.9"/>
<path d="M576 270.6 L578.3 272.9 L576 275.2 L573.7 272.9 Z" fill="#e8141c"/>
<path d="M586.1 271.9 L588.4 274.2 L586.1 276.5 L583.8 274.2 Z" fill="#e8141c"/>
<path d="M596 271.9 L598.3 274.2 L596 276.5 L593.7 274.2 Z" fill="#e8141c"/>
<path d="M596 277.4 L598.3 279.7 L596 282 L593.7 279.7 Z" fill="#e8141c"/>
<path d="M605.6 276.5 L607.9 278.8 L605.6 281.1 L603.3 278.8 Z" fill="#e8141c"/>
<path d="M615.3 273.7 L617.6 276 L615.3 278.3 L613 276 Z" fill="#e8141c"/>
<path d="M615.3 277.9 L617.6 280.2 L615.3 282.5 L613 280.2 Z" fill="#e8141c"/>
<path d="M625.3 272.8 L627.6 275.1 L625.3 277.4 L623 275.1 Z" fill="#e8141c"/>
<path d="M625.3 278.3 L627.6 280.6 L625.3 282.9 L623 280.6 Z" fill="#e8141c"/>
<path d="M635.4 270.6 L637.7 272.9 L635.4 275.2 L633.1 272.9 Z" fill="#e8141c"/>
<path d="M635.4 278.7 L637.7 281 L635.4 283.3 L633.1 281 Z" fill="#e8141c"/>
<path d="M645.4 273.7 L647.7 276 L645.4 278.3 L643.1 276 Z" fill="#e8141c"/>
<path d="M645.4 277.9 L647.7 280.2 L645.4 282.5 L643.1 280.2 Z" fill="#e8141c"/>
<path d="M655.3 276.5 L657.6 278.8 L655.3 281.1 L653 278.8 Z" fill="#e8141c"/>
<path d="M665.3 274.3 L667.6 276.6 L665.3 278.9 L663 276.6 Z" fill="#e8141c"/>
<rect x="447" y="347.8" width="100" height="2.6" fill="#111"/>
<line x1="497" y1="343.6" x2="497" y2="355.5" stroke="#111" stroke-width="1.1"/>
<line x1="490.6" y1="343.6" x2="503.4" y2="343.6" stroke="#111" stroke-width="1.1"/>
<line x1="490.6" y1="355.5" x2="503.4" y2="355.5" stroke="#111" stroke-width="1.1"/>
<path d="M454.2 346.1 L456.5 348.4 L454.2 350.7 L451.9 348.4 Z" fill="#111"/>
<path d="M467.8 348.3 L470.1 350.6 L467.8 352.9 L465.5 350.6 Z" fill="#111"/>
<path d="M475.5 344.6 L477.8 346.9 L475.5 349.2 L473.2 346.9 Z" fill="#111"/>
<path d="M482.4 346.1 L484.7 348.4 L482.4 350.7 L480.1 348.4 Z" fill="#111"/>
<path d="M482.4 350.1 L484.7 352.4 L482.4 354.7 L480.1 352.4 Z" fill="#111"/>
<path d="M489.4 344.6 L491.7 346.9 L489.4 349.2 L487.1 346.9 Z" fill="#111"/>
<path d="M497 341 L499.3 343.3 L497 345.6 L494.7 343.3 Z" fill="#111"/>
<path d="M497 351 L499.3 353.3 L497 355.6 L494.7 353.3 Z" fill="#111"/>
<path d="M504 344.6 L506.3 346.9 L504 349.2 L501.7 346.9 Z" fill="#111"/>
<path d="M510.7 346.5 L513 348.8 L510.7 351.1 L508.4 348.8 Z" fill="#111"/>
<path d="M510.7 350.1 L513 352.4 L510.7 354.7 L508.4 352.4 Z" fill="#111"/>
<path d="M518 342.8 L520.3 345.1 L518 347.4 L515.7 345.1 Z" fill="#111"/>
<path d="M525.3 346.1 L527.6 348.4 L525.3 350.7 L523 348.4 Z" fill="#111"/>
<path d="M539 348.3 L541.3 350.6 L539 352.9 L536.7 350.6 Z" fill="#111"/>
<rect x="571" y="330.7" width="100" height="2.6" fill="#e8141c"/>
<line x1="621" y1="328.7" x2="621" y2="334.2" stroke="#e8141c" stroke-width="1.1"/>
<line x1="614.6" y1="328.7" x2="627.4" y2="328.7" stroke="#e8141c" stroke-width="1.1"/>
<line x1="614.6" y1="334.2" x2="627.4" y2="334.2" stroke="#e8141c" stroke-width="1.1"/>
<rect x="614.6" y="329.5" width="12.8" height="4.5" fill="none" stroke="#e8141c" stroke-width="0.9"/>
<path d="M576.1 329.5 L578.4 331.8 L576.1 334.1 L573.8 331.8 Z" fill="#e8141c"/>
<path d="M586.1 331 L588.4 333.3 L586.1 335.6 L583.8 333.3 Z" fill="#e8141c"/>
<path d="M596 328.8 L598.3 331.1 L596 333.4 L593.7 331.1 Z" fill="#e8141c"/>
<path d="M596 331.9 L598.3 334.2 L596 336.5 L593.7 334.2 Z" fill="#e8141c"/>
<path d="M605.6 329.1 L607.9 331.4 L605.6 333.7 L603.3 331.4 Z" fill="#e8141c"/>
<path d="M615.3 329.1 L617.6 331.4 L615.3 333.7 L613 331.4 Z" fill="#e8141c"/>
<path d="M625.3 326.4 L627.6 328.7 L625.3 331 L623 328.7 Z" fill="#e8141c"/>
<path d="M625.3 330 L627.6 332.3 L625.3 334.6 L623 332.3 Z" fill="#e8141c"/>
<path d="M635.4 329.1 L637.7 331.4 L635.4 333.7 L633.1 331.4 Z" fill="#e8141c"/>
<path d="M645.4 328.8 L647.7 331.1 L645.4 333.4 L643.1 331.1 Z" fill="#e8141c"/>
<path d="M655.3 330 L657.6 332.3 L655.3 334.6 L653 332.3 Z" fill="#e8141c"/>
<path d="M665.3 330 L667.6 332.3 L665.3 334.6 L663 332.3 Z" fill="#e8141c"/>
<rect x="447" y="395.9" width="100" height="3" fill="#d8d8d8" stroke="#111" stroke-width="1.1"/>
<line x1="497" y1="388.7" x2="497" y2="404.8" stroke="#111" stroke-width="1.1"/>
<line x1="490.6" y1="388.7" x2="503.4" y2="388.7" stroke="#111" stroke-width="1.1"/>
<line x1="490.6" y1="404.8" x2="503.4" y2="404.8" stroke="#111" stroke-width="1.1"/>
<rect x="490.6" y="396.5" width="12.8" height="8.3" fill="none" stroke="#111" stroke-width="0.9"/>
<path d="M455.4 397.7 L457.7 400 L455.4 402.3 L453.1 400 Z" fill="#111"/>
<path d="M472.4 397.4 L474.7 399.7 L472.4 402 L470.1 399.7 Z" fill="#111"/>
<path d="M472.4 399.2 L474.7 401.5 L472.4 403.8 L470.1 401.5 Z" fill="#111"/>
<path d="M480.3 390.1 L482.6 392.4 L480.3 394.7 L478 392.4 Z" fill="#111"/>
<path d="M480.3 391.9 L482.6 394.2 L480.3 396.5 L478 394.2 Z" fill="#111"/>
<path d="M488.5 395.9 L490.8 398.2 L488.5 400.5 L486.2 398.2 Z" fill="#111"/>
<path d="M488.5 400.7 L490.8 403 L488.5 405.3 L486.2 403 Z" fill="#111"/>
<path d="M497 390.1 L499.3 392.4 L497 394.7 L494.7 392.4 Z" fill="#111"/>
<path d="M497 391.9 L499.3 394.2 L497 396.5 L494.7 394.2 Z" fill="#111"/>
<path d="M504.9 395.9 L507.2 398.2 L504.9 400.5 L502.6 398.2 Z" fill="#111"/>
<path d="M504.9 400.7 L507.2 403 L504.9 405.3 L502.6 403 Z" fill="#111"/>
<path d="M513.1 386.4 L515.4 388.7 L513.1 391 L510.8 388.7 Z" fill="#111"/>
<path d="M513.1 391 L515.4 393.3 L513.1 395.6 L510.8 393.3 Z" fill="#111"/>
<path d="M521.7 397.4 L524 399.7 L521.7 402 L519.4 399.7 Z" fill="#111"/>
<path d="M521.7 402.5 L524 404.8 L521.7 407.1 L519.4 404.8 Z" fill="#111"/>
<path d="M538.1 395.2 L540.4 397.5 L538.1 399.8 L535.8 397.5 Z" fill="#111"/>
<rect x="571" y="379.9" width="100" height="3" fill="#e8141c"/>
<line x1="621" y1="374.1" x2="621" y2="388.2" stroke="#e8141c" stroke-width="1.1"/>
<line x1="614.6" y1="374.1" x2="627.4" y2="374.1" stroke="#e8141c" stroke-width="1.1"/>
<line x1="614.6" y1="388.2" x2="627.4" y2="388.2" stroke="#e8141c" stroke-width="1.1"/>
<path d="M579.2 380.9 L581.5 383.2 L579.2 385.5 L576.9 383.2 Z" fill="#e8141c"/>
<path d="M596 380 L598.3 382.3 L596 384.6 L593.7 382.3 Z" fill="#e8141c"/>
<path d="M603.8 371.8 L606.1 374.1 L603.8 376.4 L601.5 374.1 Z" fill="#e8141c"/>
<path d="M603.8 385.9 L606.1 388.2 L603.8 390.5 L601.5 388.2 Z" fill="#e8141c"/>
<path d="M612.4 375.1 L614.7 377.4 L612.4 379.7 L610.1 377.4 Z" fill="#e8141c"/>
<path d="M620.2 384.2 L622.5 386.5 L620.2 388.8 L617.9 386.5 Z" fill="#e8141c"/>
<path d="M629 378.2 L631.3 380.5 L629 382.8 L626.7 380.5 Z" fill="#e8141c"/>
<path d="M637.2 372.2 L639.5 374.5 L637.2 376.8 L634.9 374.5 Z" fill="#e8141c"/>
<path d="M637.2 385 L639.5 387.3 L637.2 389.6 L634.9 387.3 Z" fill="#e8141c"/>
<path d="M645.4 379.5 L647.7 381.8 L645.4 384.1 L643.1 381.8 Z" fill="#e8141c"/>
<path d="M661.8 379.5 L664.1 381.8 L661.8 384.1 L659.5 381.8 Z" fill="#e8141c"/>
<rect x="447" y="449.6" width="100" height="2.2" fill="#111"/>
<line x1="497" y1="446.1" x2="497" y2="454.5" stroke="#111" stroke-width="1.1"/>
<line x1="490.6" y1="446.1" x2="503.4" y2="446.1" stroke="#111" stroke-width="1.1"/>
<line x1="490.6" y1="454.5" x2="503.4" y2="454.5" stroke="#111" stroke-width="1.1"/>
<path d="M451.3 445.1 L453.6 447.4 L451.3 449.7 L449 447.4 Z" fill="#111"/>
<path d="M458.5 447.4 L460.8 449.7 L458.5 452 L456.2 449.7 Z" fill="#111"/>
<path d="M466.1 446.7 L468.4 449 L466.1 451.3 L463.8 449 Z" fill="#111"/>
<path d="M474 448 L476.3 450.3 L474 452.6 L471.7 450.3 Z" fill="#111"/>
<path d="M481.2 447.6 L483.5 449.9 L481.2 452.2 L478.9 449.9 Z" fill="#111"/>
<path d="M489.4 448.6 L491.7 450.9 L489.4 453.2 L487.1 450.9 Z" fill="#111"/>
<path d="M492.6 452.7 L494.9 455 L492.6 457.3 L490.3 455 Z" fill="#111"/>
<path d="M496.8 444.2 L499.1 446.5 L496.8 448.8 L494.5 446.5 Z" fill="#111"/>
<path d="M500.6 453.1 L502.9 455.4 L500.6 457.7 L498.3 455.4 Z" fill="#111"/>
<path d="M512 448.6 L514.3 450.9 L512 453.2 L509.7 450.9 Z" fill="#111"/>
<path d="M520.1 447.4 L522.4 449.7 L520.1 452 L517.8 449.7 Z" fill="#111"/>
<path d="M527.2 446.7 L529.5 449 L527.2 451.3 L524.9 449 Z" fill="#111"/>
<path d="M534.8 449.3 L537.1 451.6 L534.8 453.9 L532.5 451.6 Z" fill="#111"/>
<path d="M542.4 448.9 L544.7 451.2 L542.4 453.5 L540.1 451.2 Z" fill="#111"/>
<rect x="571" y="427.2" width="100" height="2.6" fill="#e8141c"/>
<line x1="621" y1="422.4" x2="621" y2="431.3" stroke="#e8141c" stroke-width="1.1"/>
<line x1="614.6" y1="422.4" x2="627.4" y2="422.4" stroke="#e8141c" stroke-width="1.1"/>
<line x1="614.6" y1="431.3" x2="627.4" y2="431.3" stroke="#e8141c" stroke-width="1.1"/>
<rect x="614.6" y="426.6" width="12.8" height="4.7" fill="none" stroke="#e8141c" stroke-width="0.9"/>
<path d="M577.4 420.5 L579.7 422.8 L577.4 425.1 L575.1 422.8 Z" fill="#e8141c"/>
<path d="M577.4 428.1 L579.7 430.4 L577.4 432.7 L575.1 430.4 Z" fill="#e8141c"/>
<path d="M589.7 425.2 L592 427.5 L589.7 429.8 L587.4 427.5 Z" fill="#e8141c"/>
<path d="M602.1 424.7 L604.4 427 L602.1 429.3 L599.8 427 Z" fill="#e8141c"/>
<path d="M602.1 428.6 L604.4 430.9 L602.1 433.2 L599.8 430.9 Z" fill="#e8141c"/>
<path d="M614.8 425.2 L617.1 427.5 L614.8 429.8 L612.5 427.5 Z" fill="#e8141c"/>
<path d="M626.7 426.2 L629 428.5 L626.7 430.8 L624.4 428.5 Z" fill="#e8141c"/>
<path d="M639.1 426.2 L641.4 428.5 L639.1 430.8 L636.8 428.5 Z" fill="#e8141c"/>
<path d="M651.8 425.2 L654.1 427.5 L651.8 429.8 L649.5 427.5 Z" fill="#e8141c"/>
<path d="M651.8 428.1 L654.1 430.4 L651.8 432.7 L649.5 430.4 Z" fill="#e8141c"/>
<path d="M663.7 425.2 L666 427.5 L663.7 429.8 L661.4 427.5 Z" fill="#e8141c"/>
<path d="M663.7 428.6 L666 430.9 L663.7 433.2 L661.4 430.9 Z" fill="#e8141c"/>
<text x="499.5" y="479" font-size="12.8" text-anchor="middle" font-weight="normal" fill="#111">Sn-2X</text>
<text x="621" y="479" font-size="12.8" text-anchor="middle" font-weight="normal" fill="#111">Sn-3X</text>
<text x="387.6" y="289" font-size="10.8" text-anchor="middle" font-weight="normal" fill="#111" transform="rotate(-90 387.6 289)"><tspan font-style="italic">J</tspan><tspan font-size="7.5" dy="2">SC</tspan></text>
<text x="398.5" y="289" font-size="10.8" text-anchor="middle" font-weight="normal" fill="#111" transform="rotate(-90 398.5 289)">(mA cm<tspan font-size="7.5" dy="-4">−2</tspan><tspan dy="4">)</tspan></text>
<text x="396.7" y="346" font-size="10.8" text-anchor="middle" font-weight="normal" fill="#111" transform="rotate(-90 396.7 346)"><tspan font-style="italic">V</tspan><tspan font-size="7.5" dy="2">OC</tspan><tspan dy="-2"> (V)</tspan></text>
<text x="399.7" y="390.5" font-size="10.8" text-anchor="middle" font-weight="normal" fill="#111" transform="rotate(-90 399.7 390.5)">FF (%)</text>
<text x="399.7" y="434.2" font-size="11.2" text-anchor="middle" font-weight="normal" fill="#111" transform="rotate(-90 399.7 434.2)">PCE (%)</text>
<text x="2.2" y="525.5" font-size="18.2" text-anchor="start" font-weight="bold" fill="#000">e</text>
<polyline points="59.8,569.31 60.8,569.16 61.81,569.02 62.81,568.88 63.82,568.76 64.82,568.64 65.83,568.54 66.83,568.43 67.84,568.33 68.84,568.24 69.85,568.15 70.85,568.07 71.86,568 72.86,567.94 73.87,567.89 74.87,567.83 75.88,567.78 76.88,567.72 77.89,567.68 78.89,567.63 79.9,567.59 80.9,567.55 81.91,567.51 82.91,567.48 83.92,567.46 84.92,567.44 85.92,567.42 86.93,567.4 87.93,567.38 88.94,567.37 89.94,567.35 90.95,567.34 91.95,567.32 92.96,567.31 93.96,567.29 94.97,567.28 95.97,567.26 96.98,567.25 97.98,567.24 98.99,567.23 99.99,567.22 101,567.21 102,567.2 103.01,567.2 104.01,567.19 105.02,567.18 106.02,567.18 107.03,567.17 108.03,567.17 109.04,567.17 110.04,567.17 111.04,567.17 112.05,567.17 113.05,567.17 114.06,567.17 115.06,567.17 116.07,567.17 117.07,567.17 118.08,567.17 119.08,567.17 120.09,567.17 121.09,567.17 122.1,567.17 123.1,567.17 124.11,567.17 125.11,567.17 126.12,567.17 127.12,567.17 128.13,567.17 129.13,567.17 130.14,567.17 131.14,567.17 132.15,567.17 133.15,567.17 134.16,567.17 135.16,567.17 136.16,567.17 137.17,567.17 138.17,567.17 139.18,567.17 140.18,567.17 141.19,567.17 142.19,567.17 143.2,567.17 144.2,567.17 145.21,567.17 146.21,567.17 147.22,567.17 148.22,567.17 149.23,567.17 150.23,567.17 151.24,567.17 152.24,567.17 153.25,567.17 154.25,567.17 155.26,567.17 156.26,567.17 157.27,567.17 158.27,567.17 159.28,567.17 160.28,567.17 161.28,567.17 162.29,567.17 163.29,567.17 164.3,567.17 165.3,567.18 166.31,567.18 167.31,567.18 168.32,567.18 169.32,567.19 170.33,567.19 171.33,567.2 172.34,567.2 173.34,567.21 174.35,567.21 175.35,567.22 176.36,567.22 177.36,567.23 178.37,567.23 179.37,567.24 180.38,567.25 181.38,567.25 182.39,567.26 183.39,567.27 184.4,567.27 185.4,567.28 186.4,567.29 187.41,567.3 188.41,567.3 189.42,567.31 190.42,567.32 191.43,567.32 192.43,567.33 193.44,567.34 194.44,567.35 195.45,567.35 196.45,567.36 197.46,567.37 198.46,567.37 199.47,567.38 200.47,567.39 201.48,567.39 202.48,567.4 203.49,567.4 204.49,567.41 205.5,567.42 206.5,567.42 207.51,567.43 208.51,567.43 209.52,567.43 210.52,567.44 211.52,567.44 212.53,567.44 213.53,567.45 214.54,567.45 215.54,567.45 216.55,567.46 217.55,567.46 218.56,567.46 219.56,567.47 220.57,567.47 221.57,567.47 222.58,567.48 223.58,567.48 224.59,567.48 225.59,567.48 226.6,567.49 227.6,567.49 228.61,567.49 229.61,567.5 230.62,567.5 231.62,567.5 232.63,567.5 233.63,567.51 234.64,567.51 235.64,567.51 236.64,567.51 237.65,567.52 238.65,567.52 239.66,567.52 240.66,567.52 241.67,567.52 242.67,567.53 243.68,567.53 244.68,567.53 245.69,567.53 246.69,567.54 247.7,567.54 248.7,567.54 249.71,567.54 250.71,567.55 251.72,567.55 252.72,567.55 253.73,567.55 254.73,567.56 255.74,567.56 256.74,567.56 257.75,567.56 258.75,567.57 259.76,567.57 260.76,567.57 261.76,567.57 262.77,567.58 263.77,567.58 264.78,567.58 265.78,567.59 266.79,567.59 267.79,567.59 268.8,567.59 269.8,567.6 270.81,567.6 271.81,567.6 272.82,567.6 273.82,567.61 274.83,567.61 275.83,567.61 276.84,567.61 277.84,567.62 278.85,567.62 279.85,567.62 280.86,567.63 281.86,567.63 282.87,567.63 283.87,567.63 284.88,567.64 285.88,567.64 286.88,567.64 287.89,567.64 288.89,567.65 289.9,567.65 290.9,567.65 291.91,567.65 292.91,567.66 293.92,567.66 294.92,567.66 295.93,567.67 296.93,567.67 297.94,567.67 298.94,567.67 299.95,567.68 300.95,567.68 301.96,567.68 302.96,567.68 303.97,567.69 304.97,567.69 305.98,567.69 306.98,567.69 307.99,567.7 308.99,567.7 310,567.7 311,567.71" fill="none" stroke="#e5121a" stroke-width="2.6" stroke-linejoin="round"/>
<polyline points="59.8,659.59 60.3,659.9 60.8,660.56 61.31,661.06 61.81,661.04 62.31,660.94 62.81,661.09 63.32,661.25 63.82,661.36 64.32,661.65 64.82,661.77 65.33,661.43 65.83,661.16 66.33,661.3 66.83,661.84 67.34,662.34 67.84,662.72 68.34,662.81 68.84,662.69 69.35,663.07 69.85,663.38 70.35,663.04 70.85,662.77 71.36,663.18 71.86,663.78 72.36,663.82 72.86,663.66 73.36,663.9 73.87,664.22 74.37,664.15 74.87,663.77 75.37,663.85 75.88,664.57 76.38,664.96 76.88,665.25 77.38,665.6 77.89,665.53 78.39,665.17 78.89,664.87 79.39,665.22 79.9,665.57 80.4,665.39 80.9,665.63 81.4,666.07 81.91,666.02 82.41,665.99 82.91,666.02 83.41,666.19 83.92,666.48 84.42,666.15 84.92,665.62 85.42,665.51 85.92,665.52 86.43,665.48 86.93,665.78 87.43,666.21 87.93,666.44 88.44,666.78 88.94,667.03 89.44,666.86 89.94,666.25 90.45,666.02 90.95,666.17 91.45,666.22 91.95,666.54 92.46,666.68 92.96,666.77 93.46,666.93 93.96,666.53 94.47,666.36 94.97,666.73 95.47,666.78 95.97,666.59 96.48,666.42 96.98,666.51 97.48,666.67 97.98,666.73 98.48,667.1 98.99,667.25 99.49,667.12 99.99,667.3 100.49,667.22 101,667.13 101.5,667.36 102,667.18 102.5,666.97 103.01,667.29 103.51,667.98 104.01,668.41 104.51,668.14 105.02,667.79 105.52,667.81 106.02,667.77 106.52,667.62 107.03,667.67 107.53,667.59 108.03,667.55 108.53,667.81 109.04,667.57 109.54,667.03 110.04,667.37 110.54,667.98 111.04,667.89 111.55,667.49 112.05,667.4 112.55,667.72 113.05,668.1 113.56,668.08 114.06,667.81 114.56,667.85 115.06,668.1 115.57,668.18 116.07,668.07 116.57,668.01 117.07,668.1 117.58,667.95 118.08,667.77 118.58,668.02 119.08,668.15 119.59,668.04 120.09,668.16 120.59,668.32 121.09,668.64 121.6,668.82 122.1,668.44 122.6,668.23 123.1,668.3 123.6,668.4 124.11,668.63 124.61,668.72 125.11,668.32 125.61,667.86 126.12,668.07 126.62,668.45 127.12,668.5 127.62,668.66 128.13,668.63 128.63,668.49 129.13,668.86 129.63,669.27 130.14,669.11 130.64,668.75 131.14,668.48 131.64,668.46 132.15,668.67 132.65,668.6 133.15,668.59 133.65,668.67 134.16,668.55 134.66,668.72 135.16,668.89 135.66,668.88 136.16,669.08 136.67,669.07 137.17,668.88 137.67,668.95 138.17,669.13 138.68,669.13 139.18,668.93 139.68,668.9 140.18,669.13 140.69,669.2 141.19,669.32 141.69,669.13 142.19,668.59 142.7,668.99 143.2,669.37 143.7,669.13 144.2,669.22 144.71,669.11 145.21,669 145.71,669.32 146.21,669.49 146.72,669.44 147.22,669.55 147.72,669.85 148.22,669.81 148.72,669.31 149.23,668.91 149.73,668.71 150.23,668.62 150.73,668.91 151.24,669.33 151.74,669.64 152.24,669.96 152.74,669.94 153.25,669.65 153.75,669.26 154.25,669.15 154.75,669.43 155.26,669.73 155.76,669.81 156.26,669.51 156.76,669.19 157.27,669.26 157.77,669.19 158.27,668.72 158.77,668.74 159.28,669.25 159.78,669.51 160.28,669.46 160.78,669.33 161.28,669.24 161.79,669.1 162.29,668.87 162.79,668.71 163.29,668.86 163.8,669.16 164.3,669.3 164.8,669.47 165.3,669.29 165.81,668.97 166.31,668.95 166.81,668.92 167.31,669.14 167.82,669.19 168.32,669.03 168.82,669.15 169.32,669.28 169.83,669.44 170.33,669.55 170.83,669.56 171.33,669.35 171.84,669.05 172.34,668.97 172.84,669.3 173.34,669.87 173.84,669.66 174.35,669.27 174.85,669.25 175.35,669.05 175.85,669.11 176.36,669.33 176.86,668.94 177.36,668.56 177.86,668.92 178.37,669.35 178.87,669.47 179.37,669.61 179.87,669.77 180.38,669.31 180.88,668.64 181.38,668.72 181.88,668.96 182.39,668.79 182.89,668.69 183.39,668.74 183.89,668.65 184.4,668.85 184.9,669.02 185.4,669.27 185.9,669.92 186.4,669.88 186.91,669.57 187.41,669.68 187.91,669.7 188.41,669.73 188.92,669.36 189.42,668.74 189.92,668.94 190.42,669.22 190.93,669.16 191.43,669.24 191.93,669.23 192.43,669.05 192.94,669.2 193.44,669.55 193.94,669.47 194.44,669.52 194.95,669.66 195.45,669.5 195.95,669.39 196.45,669.14 196.96,669.09 197.46,669.29 197.96,669.33 198.46,669.57 198.96,669.96 199.47,669.92 199.97,669.75 200.47,669.66 200.97,669.55 201.48,669.63 201.98,669.6 202.48,669.03 202.98,668.91 203.49,669.51 203.99,669.78 204.49,669.57 204.99,669.2 205.5,669.34 206,670.04 206.5,670.38 207,670.45 207.51,670.62 208.01,670.52 208.51,670.29 209.01,670.09 209.52,669.69 210.02,669.78 210.52,670.4 211.02,670.63 211.52,670.27 212.03,670 212.53,670.44 213.03,670.75 213.53,670.41 214.04,670.26 214.54,670.2 215.04,669.93 215.54,669.99 216.05,670.31 216.55,670.54 217.05,670.54 217.55,670.76 218.06,671.02 218.56,670.92 219.06,670.91 219.56,670.93 220.07,670.64 220.57,670.14 221.07,670.07 221.57,670.17 222.08,670.4 222.58,671.14 223.08,671.46 223.58,670.92 224.08,670.45 224.59,670.43 225.09,670.35 225.59,670.56 226.09,670.97 226.6,670.62 227.1,670.29 227.6,670.96 228.1,671.47 228.61,671.23 229.11,670.96 229.61,670.95 230.11,671.07 230.62,671.31 231.12,671.4 231.62,670.81 232.12,670.26 232.63,670.64 233.13,671.2 233.63,671.55 234.13,671.77 234.64,671.41 235.14,671.21 235.64,671.34 236.14,671.16 236.64,670.95 237.15,670.89 237.65,671.01 238.15,671.4 238.65,671.88 239.16,671.89 239.66,671.52 240.16,671.28 240.66,671.08 241.17,671.05 241.67,671.42 242.17,671.53 242.67,671.4 243.18,671.38 243.68,671.42 244.18,671.36 244.68,671.22 245.19,671.25 245.69,671.27 246.19,671.2 246.69,671.36 247.2,671.69 247.7,671.72 248.2,671.65 248.7,671.49 249.2,671.47 249.71,672.02 250.21,672.36 250.71,672.15 251.21,672.08 251.72,672.24 252.22,672.2 252.72,672.31 253.22,672.37 253.73,672.07 254.23,671.92 254.73,672.09 255.23,672.15 255.74,672.07 256.24,672.42 256.74,672.81 257.24,672.49 257.75,671.93 258.25,671.49 258.75,671.31 259.25,671.65 259.76,672.16 260.26,672.4 260.76,672.19 261.26,671.82 261.76,671.91 262.27,672.29 262.77,672.23 263.27,671.81 263.77,671.69 264.28,672.11 264.78,672.58 265.28,672.71 265.78,672.71 266.29,672.57 266.79,672.2 267.29,672.01 267.79,672.04 268.3,672.2 268.8,672.5 269.3,672.62 269.8,672.68 270.31,672.54 270.81,672.36 271.31,672.81 271.81,673.28 272.32,673.18 272.82,673.22 273.32,673.43 273.82,673.13 274.32,672.5 274.83,672.39 275.33,672.7 275.83,672.6 276.33,672.69 276.84,673.17 277.34,673.21 277.84,673.06 278.34,673.27 278.85,673.58 279.35,673.32 279.85,672.78 280.35,672.48 280.86,672.62 281.36,672.86 281.86,672.75 282.36,673.08 282.87,673.53 283.37,673.41 283.87,673.33 284.37,673.36 284.88,673.26 285.38,673.15 285.88,673.33 286.38,673.47 286.88,673.33 287.39,673.47 287.89,673.55 288.39,673.44 288.89,673.73 289.4,674.03 289.9,674.19 290.4,674.33 290.9,673.92 291.41,673.55 291.91,673.88 292.41,674.18 292.91,674.33 293.42,674.09 293.92,673.56 294.42,673.68 294.92,674.11 295.43,674.29 295.93,674.46 296.43,674.61 296.93,674.67 297.44,674.55 297.94,674.22 298.44,674.03 298.94,674.14 299.44,674.52 299.95,674.79 300.45,674.75 300.95,674.6 301.45,674.3 301.96,674.16 302.46,674.33 302.96,674.83 303.46,675.03 303.97,674.48 304.47,674.43 304.97,674.94 305.47,674.76 305.98,674.6 306.48,674.72 306.98,674.58 307.48,674.89 307.99,675.08 308.49,674.7 308.99,674.82 309.49,675.05 310,675.18 310.5,675.26 311,674.91" fill="none" stroke="#000" stroke-width="2.1" stroke-linejoin="round"/>
<rect x="57.8" y="523.8" width="253.2" height="187.5" fill="none" stroke="#3c3c3c" stroke-width="1.15"/>
<line x1="53.8" y1="711.3" x2="57.8" y2="711.3" stroke="#3c3c3c" stroke-width="1.15"/>
<text x="48.4" y="715.9" font-size="12.7" text-anchor="end" font-weight="normal" fill="#111">5</text>
<line x1="53.8" y1="684.51" x2="57.8" y2="684.51" stroke="#3c3c3c" stroke-width="1.15"/>
<text x="48.4" y="689.11" font-size="12.7" text-anchor="end" font-weight="normal" fill="#111">6</text>
<line x1="53.8" y1="657.72" x2="57.8" y2="657.72" stroke="#3c3c3c" stroke-width="1.15"/>
<text x="48.4" y="662.32" font-size="12.7" text-anchor="end" font-weight="normal" fill="#111">7</text>
<line x1="53.8" y1="630.93" x2="57.8" y2="630.93" stroke="#3c3c3c" stroke-width="1.15"/>
<text x="48.4" y="635.53" font-size="12.7" text-anchor="end" font-weight="normal" fill="#111">8</text>
<line x1="53.8" y1="604.14" x2="57.8" y2="604.14" stroke="#3c3c3c" stroke-width="1.15"/>
<text x="48.4" y="608.74" font-size="12.7" text-anchor="end" font-weight="normal" fill="#111">9</text>
<line x1="53.8" y1="577.35" x2="57.8" y2="577.35" stroke="#3c3c3c" stroke-width="1.15"/>
<text x="48.4" y="581.95" font-size="12.7" text-anchor="end" font-weight="normal" fill="#111">10</text>
<line x1="53.8" y1="550.56" x2="57.8" y2="550.56" stroke="#3c3c3c" stroke-width="1.15"/>
<text x="48.4" y="555.16" font-size="12.7" text-anchor="end" font-weight="normal" fill="#111">11</text>
<line x1="53.8" y1="523.77" x2="57.8" y2="523.77" stroke="#3c3c3c" stroke-width="1.15"/>
<text x="48.4" y="528.37" font-size="12.7" text-anchor="end" font-weight="normal" fill="#111">12</text>
<line x1="55.6" y1="697.9" x2="57.8" y2="697.9" stroke="#3c3c3c" stroke-width="1.15"/>
<line x1="55.6" y1="671.12" x2="57.8" y2="671.12" stroke="#3c3c3c" stroke-width="1.15"/>
<line x1="55.6" y1="644.32" x2="57.8" y2="644.32" stroke="#3c3c3c" stroke-width="1.15"/>
<line x1="55.6" y1="617.53" x2="57.8" y2="617.53" stroke="#3c3c3c" stroke-width="1.15"/>
<line x1="55.6" y1="590.75" x2="57.8" y2="590.75" stroke="#3c3c3c" stroke-width="1.15"/>
<line x1="55.6" y1="563.95" x2="57.8" y2="563.95" stroke="#3c3c3c" stroke-width="1.15"/>
<line x1="55.6" y1="537.16" x2="57.8" y2="537.16" stroke="#3c3c3c" stroke-width="1.15"/>
<line x1="59.8" y1="711.3" x2="59.8" y2="715.3" stroke="#3c3c3c" stroke-width="1.15"/>
<text x="59.8" y="730.6" font-size="12.7" text-anchor="middle" font-weight="normal" fill="#111">0</text>
<line x1="110.04" y1="711.3" x2="110.04" y2="715.3" stroke="#3c3c3c" stroke-width="1.15"/>
<text x="110.04" y="730.6" font-size="12.7" text-anchor="middle" font-weight="normal" fill="#111">100</text>
<line x1="160.28" y1="711.3" x2="160.28" y2="715.3" stroke="#3c3c3c" stroke-width="1.15"/>
<text x="160.28" y="730.6" font-size="12.7" text-anchor="middle" font-weight="normal" fill="#111">200</text>
<line x1="210.52" y1="711.3" x2="210.52" y2="715.3" stroke="#3c3c3c" stroke-width="1.15"/>
<text x="210.52" y="730.6" font-size="12.7" text-anchor="middle" font-weight="normal" fill="#111">300</text>
<line x1="260.76" y1="711.3" x2="260.76" y2="715.3" stroke="#3c3c3c" stroke-width="1.15"/>
<text x="260.76" y="730.6" font-size="12.7" text-anchor="middle" font-weight="normal" fill="#111">400</text>
<line x1="311" y1="711.3" x2="311" y2="715.3" stroke="#3c3c3c" stroke-width="1.15"/>
<text x="311" y="730.6" font-size="12.7" text-anchor="middle" font-weight="normal" fill="#111">500</text>
<line x1="84.92" y1="711.3" x2="84.92" y2="713.5" stroke="#3c3c3c" stroke-width="1.15"/>
<line x1="135.16" y1="711.3" x2="135.16" y2="713.5" stroke="#3c3c3c" stroke-width="1.15"/>
<line x1="185.4" y1="711.3" x2="185.4" y2="713.5" stroke="#3c3c3c" stroke-width="1.15"/>
<line x1="235.64" y1="711.3" x2="235.64" y2="713.5" stroke="#3c3c3c" stroke-width="1.15"/>
<line x1="285.88" y1="711.3" x2="285.88" y2="713.5" stroke="#3c3c3c" stroke-width="1.15"/>
<text x="177.4" y="748.7" font-size="12.3" text-anchor="middle" font-weight="normal" fill="#111">Time (min)</text>
<text x="22.1" y="610.6" font-size="12.3" text-anchor="middle" font-weight="normal" fill="#111" transform="rotate(-90 22.1 610.6)">PCE (%)</text>
<line x1="241.8" y1="534.7" x2="263.2" y2="534.7" stroke="#000" stroke-width="2.4"/>
<text x="267.2" y="538.9" font-size="11.3" text-anchor="start" font-weight="normal" fill="#111">Sn-2X</text>
<line x1="241.8" y1="549.5" x2="263.2" y2="549.5" stroke="#e5121a" stroke-width="2.2"/>
<text x="267.2" y="553.8" font-size="11.3" text-anchor="start" font-weight="normal" fill="#111">Sn-3X</text>
<text x="373.2" y="525.5" font-size="18.2" text-anchor="start" font-weight="bold" fill="#000">f</text>
<g clip-path="url(#clipF)">
<polyline points="435.2,557.36 437.72,557.4 440.24,557.43 442.76,557.46 445.28,557.5 447.8,557.53 450.32,557.57 452.85,557.6 455.37,557.63 457.89,557.67 460.41,557.7 462.93,557.74 465.45,557.79 467.97,557.83 470.49,557.87 473.01,557.91 475.53,557.95 478.05,557.97 480.57,557.98 483.09,557.98 485.62,557.98 488.14,557.98 490.66,557.98 493.18,557.98 495.7,557.98 498.22,557.98 500.74,557.98 503.26,557.98 505.78,557.98 508.3,557.98 510.82,557.98 513.34,557.98 515.86,557.98 518.38,557.98 520.91,557.98 523.43,557.98 525.95,557.98 528.47,557.98 530.99,557.97 533.51,557.94 536.03,557.9 538.55,557.85 541.07,557.8 543.59,557.75 546.11,557.71 548.63,557.68 551.15,557.67 553.68,557.69 556.2,557.73 558.72,557.79 561.24,557.85 563.76,557.93 566.28,558.02 568.8,558.13 571.32,558.26 573.84,558.41 576.36,558.65 578.88,559.03 581.4,559.38 583.92,559.53 586.45,559.47 588.97,559.32 591.49,559.13 594.01,558.94 596.53,558.79 599.05,558.71 601.57,558.65 604.09,558.59 606.61,558.53 609.13,558.49 611.65,558.46 614.17,558.45 616.69,558.47 619.21,558.57 621.74,558.72 624.26,558.92 626.78,559.14 629.3,559.42 631.82,559.88 634.34,560.42 636.86,560.91 639.38,561.2 641.9,561.17 644.42,560.83 646.94,560.35 649.46,559.88 651.98,559.57 654.51,559.57 657.03,559.82 659.55,560.2 662.07,560.85 664.59,561.8 667.11,562.31" fill="none" stroke="#e3141b" stroke-width="1" stroke-linejoin="round"/>
<circle cx="435.2" cy="557.36" r="2.8" fill="url(#gRo)"/>
<circle cx="437.72" cy="557.4" r="2.8" fill="url(#gRo)"/>
<circle cx="440.24" cy="557.43" r="2.8" fill="url(#gRo)"/>
<circle cx="442.76" cy="557.46" r="2.8" fill="url(#gRo)"/>
<circle cx="445.28" cy="557.5" r="2.8" fill="url(#gRo)"/>
<circle cx="447.8" cy="557.53" r="2.8" fill="url(#gRo)"/>
<circle cx="450.32" cy="557.57" r="2.8" fill="url(#gRo)"/>
<circle cx="452.85" cy="557.6" r="2.8" fill="url(#gRo)"/>
<circle cx="455.37" cy="557.63" r="2.8" fill="url(#gRo)"/>
<circle cx="457.89" cy="557.67" r="2.8" fill="url(#gRo)"/>
<circle cx="460.41" cy="557.7" r="2.8" fill="url(#gRo)"/>
<circle cx="462.93" cy="557.74" r="2.8" fill="url(#gRo)"/>
<circle cx="465.45" cy="557.79" r="2.8" fill="url(#gRo)"/>
<circle cx="467.97" cy="557.83" r="2.8" fill="url(#gRo)"/>
<circle cx="470.49" cy="557.87" r="2.8" fill="url(#gRo)"/>
<circle cx="473.01" cy="557.91" r="2.8" fill="url(#gRo)"/>
<circle cx="475.53" cy="557.95" r="2.8" fill="url(#gRo)"/>
<circle cx="478.05" cy="557.97" r="2.8" fill="url(#gRo)"/>
<circle cx="480.57" cy="557.98" r="2.8" fill="url(#gRo)"/>
<circle cx="483.09" cy="557.98" r="2.8" fill="url(#gRo)"/>
<circle cx="485.62" cy="557.98" r="2.8" fill="url(#gRo)"/>
<circle cx="488.14" cy="557.98" r="2.8" fill="url(#gRo)"/>
<circle cx="490.66" cy="557.98" r="2.8" fill="url(#gRo)"/>
<circle cx="493.18" cy="557.98" r="2.8" fill="url(#gRo)"/>
<circle cx="495.7" cy="557.98" r="2.8" fill="url(#gRo)"/>
<circle cx="498.22" cy="557.98" r="2.8" fill="url(#gRo)"/>
<circle cx="500.74" cy="557.98" r="2.8" fill="url(#gRo)"/>
<circle cx="503.26" cy="557.98" r="2.8" fill="url(#gRo)"/>
<circle cx="505.78" cy="557.98" r="2.8" fill="url(#gRo)"/>
<circle cx="508.3" cy="557.98" r="2.8" fill="url(#gRo)"/>
<circle cx="510.82" cy="557.98" r="2.8" fill="url(#gRo)"/>
<circle cx="513.34" cy="557.98" r="2.8" fill="url(#gRo)"/>
<circle cx="515.86" cy="557.98" r="2.8" fill="url(#gRo)"/>
<circle cx="518.38" cy="557.98" r="2.8" fill="url(#gRo)"/>
<circle cx="520.91" cy="557.98" r="2.8" fill="url(#gRo)"/>
<circle cx="523.43" cy="557.98" r="2.8" fill="url(#gRo)"/>
<circle cx="525.95" cy="557.98" r="2.8" fill="url(#gRo)"/>
<circle cx="528.47" cy="557.98" r="2.8" fill="url(#gRo)"/>
<circle cx="530.99" cy="557.97" r="2.8" fill="url(#gRo)"/>
<circle cx="533.51" cy="557.94" r="2.8" fill="url(#gRo)"/>
<circle cx="536.03" cy="557.9" r="2.8" fill="url(#gRo)"/>
<circle cx="538.55" cy="557.85" r="2.8" fill="url(#gRo)"/>
<circle cx="541.07" cy="557.8" r="2.8" fill="url(#gRo)"/>
<circle cx="543.59" cy="557.75" r="2.8" fill="url(#gRo)"/>
<circle cx="546.11" cy="557.71" r="2.8" fill="url(#gRo)"/>
<circle cx="548.63" cy="557.68" r="2.8" fill="url(#gRo)"/>
<circle cx="551.15" cy="557.67" r="2.8" fill="url(#gRo)"/>
<circle cx="553.68" cy="557.69" r="2.8" fill="url(#gRo)"/>
<circle cx="556.2" cy="557.73" r="2.8" fill="url(#gRo)"/>
<circle cx="558.72" cy="557.79" r="2.8" fill="url(#gRo)"/>
<circle cx="561.24" cy="557.85" r="2.8" fill="url(#gRo)"/>
<circle cx="563.76" cy="557.93" r="2.8" fill="url(#gRo)"/>
<circle cx="566.28" cy="558.02" r="2.8" fill="url(#gRo)"/>
<circle cx="568.8" cy="558.13" r="2.8" fill="url(#gRo)"/>
<circle cx="571.32" cy="558.26" r="2.8" fill="url(#gRo)"/>
<circle cx="573.84" cy="558.41" r="2.8" fill="url(#gRo)"/>
<circle cx="576.36" cy="558.65" r="2.8" fill="url(#gRo)"/>
<circle cx="578.88" cy="559.03" r="2.8" fill="url(#gRo)"/>
<circle cx="581.4" cy="559.38" r="2.8" fill="url(#gRo)"/>
<circle cx="583.92" cy="559.53" r="2.8" fill="url(#gRo)"/>
<circle cx="586.45" cy="559.47" r="2.8" fill="url(#gRo)"/>
<circle cx="588.97" cy="559.32" r="2.8" fill="url(#gRo)"/>
<circle cx="591.49" cy="559.13" r="2.8" fill="url(#gRo)"/>
<circle cx="594.01" cy="558.94" r="2.8" fill="url(#gRo)"/>
<circle cx="596.53" cy="558.79" r="2.8" fill="url(#gRo)"/>
<circle cx="599.05" cy="558.71" r="2.8" fill="url(#gRo)"/>
<circle cx="601.57" cy="558.65" r="2.8" fill="url(#gRo)"/>
<circle cx="604.09" cy="558.59" r="2.8" fill="url(#gRo)"/>
<circle cx="606.61" cy="558.53" r="2.8" fill="url(#gRo)"/>
<circle cx="609.13" cy="558.49" r="2.8" fill="url(#gRo)"/>
<circle cx="611.65" cy="558.46" r="2.8" fill="url(#gRo)"/>
<circle cx="614.17" cy="558.45" r="2.8" fill="url(#gRo)"/>
<circle cx="616.69" cy="558.47" r="2.8" fill="url(#gRo)"/>
<circle cx="619.21" cy="558.57" r="2.8" fill="url(#gRo)"/>
<circle cx="621.74" cy="558.72" r="2.8" fill="url(#gRo)"/>
<circle cx="624.26" cy="558.92" r="2.8" fill="url(#gRo)"/>
<circle cx="626.78" cy="559.14" r="2.8" fill="url(#gRo)"/>
<circle cx="629.3" cy="559.42" r="2.8" fill="url(#gRo)"/>
<circle cx="631.82" cy="559.88" r="2.8" fill="url(#gRo)"/>
<circle cx="634.34" cy="560.42" r="2.8" fill="url(#gRo)"/>
<circle cx="636.86" cy="560.91" r="2.8" fill="url(#gRo)"/>
<circle cx="639.38" cy="561.2" r="2.8" fill="url(#gRo)"/>
<circle cx="641.9" cy="561.17" r="2.8" fill="url(#gRo)"/>
<circle cx="644.42" cy="560.83" r="2.8" fill="url(#gRo)"/>
<circle cx="646.94" cy="560.35" r="2.8" fill="url(#gRo)"/>
<circle cx="649.46" cy="559.88" r="2.8" fill="url(#gRo)"/>
<circle cx="651.98" cy="559.57" r="2.8" fill="url(#gRo)"/>
<circle cx="654.51" cy="559.57" r="2.8" fill="url(#gRo)"/>
<circle cx="657.03" cy="559.82" r="2.8" fill="url(#gRo)"/>
<circle cx="659.55" cy="560.2" r="2.8" fill="url(#gRo)"/>
<circle cx="662.07" cy="560.85" r="2.8" fill="url(#gRo)"/>
<circle cx="664.59" cy="561.8" r="2.8" fill="url(#gRo)"/>
<circle cx="667.11" cy="562.31" r="2.8" fill="url(#gRo)"/>
<polyline points="435.2,560.15 436.13,560.78 437.06,561.35 437.98,561.88 438.91,562.37 439.84,562.85 440.77,563.33 441.69,563.82 442.62,564.34 443.55,564.88 444.48,565.4 445.4,565.93 446.33,566.5 447.26,567.13 448.19,567.84 449.11,568.67 450.04,569.67 450.97,570.82 451.9,572.1 452.82,573.5 453.75,575.19 454.68,577.13 455.61,579.17 456.53,581.16 457.46,583.06 458.39,584.97 459.32,586.84 460.25,588.59 461.17,590.01 462.1,591.16 463.03,592.44 463.96,594.21 464.88,597.58 465.4,601.15 465.98,604.7 466.62,608.17 467.43,611.47 468.36,614.07 469.29,616.18 470.22,618.15 471.14,620.3 472.07,622.49 473,624.66 473.93,626.76 474.85,628.79 475.78,630.77 476.71,632.71 477.64,634.52 478.57,636.13 479.49,637.59 480.42,638.94 481.35,640.15 481.81,640.69" fill="none" stroke="#111" stroke-width="1" stroke-linejoin="round"/>
<circle cx="435.2" cy="560.15" r="2.8" fill="url(#gBo)"/>
<circle cx="436.13" cy="560.78" r="2.8" fill="url(#gBo)"/>
<circle cx="437.06" cy="561.35" r="2.8" fill="url(#gBo)"/>
<circle cx="437.98" cy="561.88" r="2.8" fill="url(#gBo)"/>
<circle cx="438.91" cy="562.37" r="2.8" fill="url(#gBo)"/>
<circle cx="439.84" cy="562.85" r="2.8" fill="url(#gBo)"/>
<circle cx="440.77" cy="563.33" r="2.8" fill="url(#gBo)"/>
<circle cx="441.69" cy="563.82" r="2.8" fill="url(#gBo)"/>
<circle cx="442.62" cy="564.34" r="2.8" fill="url(#gBo)"/>
<circle cx="443.55" cy="564.88" r="2.8" fill="url(#gBo)"/>
<circle cx="444.48" cy="565.4" r="2.8" fill="url(#gBo)"/>
<circle cx="445.4" cy="565.93" r="2.8" fill="url(#gBo)"/>
<circle cx="446.33" cy="566.5" r="2.8" fill="url(#gBo)"/>
<circle cx="447.26" cy="567.13" r="2.8" fill="url(#gBo)"/>
<circle cx="448.19" cy="567.84" r="2.8" fill="url(#gBo)"/>
<circle cx="449.11" cy="568.67" r="2.8" fill="url(#gBo)"/>
<circle cx="450.04" cy="569.67" r="2.8" fill="url(#gBo)"/>
<circle cx="450.97" cy="570.82" r="2.8" fill="url(#gBo)"/>
<circle cx="451.9" cy="572.1" r="2.8" fill="url(#gBo)"/>
<circle cx="452.82" cy="573.5" r="2.8" fill="url(#gBo)"/>
<circle cx="453.75" cy="575.19" r="2.8" fill="url(#gBo)"/>
<circle cx="454.68" cy="577.13" r="2.8" fill="url(#gBo)"/>
<circle cx="455.61" cy="579.17" r="2.8" fill="url(#gBo)"/>
<circle cx="456.53" cy="581.16" r="2.8" fill="url(#gBo)"/>
<circle cx="457.46" cy="583.06" r="2.8" fill="url(#gBo)"/>
<circle cx="458.39" cy="584.97" r="2.8" fill="url(#gBo)"/>
<circle cx="459.32" cy="586.84" r="2.8" fill="url(#gBo)"/>
<circle cx="460.25" cy="588.59" r="2.8" fill="url(#gBo)"/>
<circle cx="461.17" cy="590.01" r="2.8" fill="url(#gBo)"/>
<circle cx="462.1" cy="591.16" r="2.8" fill="url(#gBo)"/>
<circle cx="463.03" cy="592.44" r="2.8" fill="url(#gBo)"/>
<circle cx="463.96" cy="594.21" r="2.8" fill="url(#gBo)"/>
<circle cx="464.88" cy="597.58" r="2.8" fill="url(#gBo)"/>
<circle cx="465.4" cy="601.15" r="2.8" fill="url(#gBo)"/>
<circle cx="465.98" cy="604.7" r="2.8" fill="url(#gBo)"/>
<circle cx="466.62" cy="608.17" r="2.8" fill="url(#gBo)"/>
<circle cx="467.43" cy="611.47" r="2.8" fill="url(#gBo)"/>
<circle cx="468.36" cy="614.07" r="2.8" fill="url(#gBo)"/>
<circle cx="469.29" cy="616.18" r="2.8" fill="url(#gBo)"/>
<circle cx="470.22" cy="618.15" r="2.8" fill="url(#gBo)"/>
<circle cx="471.14" cy="620.3" r="2.8" fill="url(#gBo)"/>
<circle cx="472.07" cy="622.49" r="2.8" fill="url(#gBo)"/>
<circle cx="473" cy="624.66" r="2.8" fill="url(#gBo)"/>
<circle cx="473.93" cy="626.76" r="2.8" fill="url(#gBo)"/>
<circle cx="474.85" cy="628.79" r="2.8" fill="url(#gBo)"/>
<circle cx="475.78" cy="630.77" r="2.8" fill="url(#gBo)"/>
<circle cx="476.71" cy="632.71" r="2.8" fill="url(#gBo)"/>
<circle cx="477.64" cy="634.52" r="2.8" fill="url(#gBo)"/>
<circle cx="478.57" cy="636.13" r="2.8" fill="url(#gBo)"/>
<circle cx="479.49" cy="637.59" r="2.8" fill="url(#gBo)"/>
<circle cx="480.42" cy="638.94" r="2.8" fill="url(#gBo)"/>
<circle cx="481.35" cy="640.15" r="2.8" fill="url(#gBo)"/>
<circle cx="481.81" cy="640.69" r="2.8" fill="url(#gBo)"/>
</g>
<rect x="435.2" y="526" width="244.1" height="185.5" fill="none" stroke="#3c3c3c" stroke-width="1.15"/>
<line x1="431.2" y1="711.5" x2="435.2" y2="711.5" stroke="#3c3c3c" stroke-width="1.15"/>
<text x="425.5" y="716.1" font-size="12.8" text-anchor="end" font-weight="normal" fill="#111">0.0</text>
<line x1="431.2" y1="680.58" x2="435.2" y2="680.58" stroke="#3c3c3c" stroke-width="1.15"/>
<text x="425.5" y="685.18" font-size="12.8" text-anchor="end" font-weight="normal" fill="#111">0.2</text>
<line x1="431.2" y1="649.66" x2="435.2" y2="649.66" stroke="#3c3c3c" stroke-width="1.15"/>
<text x="425.5" y="654.26" font-size="12.8" text-anchor="end" font-weight="normal" fill="#111">0.4</text>
<line x1="431.2" y1="618.74" x2="435.2" y2="618.74" stroke="#3c3c3c" stroke-width="1.15"/>
<text x="425.5" y="623.34" font-size="12.8" text-anchor="end" font-weight="normal" fill="#111">0.6</text>
<line x1="431.2" y1="587.82" x2="435.2" y2="587.82" stroke="#3c3c3c" stroke-width="1.15"/>
<text x="425.5" y="592.42" font-size="12.8" text-anchor="end" font-weight="normal" fill="#111">0.8</text>
<line x1="431.2" y1="556.9" x2="435.2" y2="556.9" stroke="#3c3c3c" stroke-width="1.15"/>
<text x="425.5" y="561.5" font-size="12.8" text-anchor="end" font-weight="normal" fill="#111">1.0</text>
<line x1="431.2" y1="525.98" x2="435.2" y2="525.98" stroke="#3c3c3c" stroke-width="1.15"/>
<text x="425.5" y="530.58" font-size="12.8" text-anchor="end" font-weight="normal" fill="#111">1.2</text>
<line x1="433" y1="696.04" x2="435.2" y2="696.04" stroke="#3c3c3c" stroke-width="1.15"/>
<line x1="433" y1="665.12" x2="435.2" y2="665.12" stroke="#3c3c3c" stroke-width="1.15"/>
<line x1="433" y1="634.2" x2="435.2" y2="634.2" stroke="#3c3c3c" stroke-width="1.15"/>
<line x1="433" y1="603.28" x2="435.2" y2="603.28" stroke="#3c3c3c" stroke-width="1.15"/>
<line x1="433" y1="572.36" x2="435.2" y2="572.36" stroke="#3c3c3c" stroke-width="1.15"/>
<line x1="433" y1="541.44" x2="435.2" y2="541.44" stroke="#3c3c3c" stroke-width="1.15"/>
<line x1="435.2" y1="711.5" x2="435.2" y2="715.5" stroke="#3c3c3c" stroke-width="1.15"/>
<text x="435.2" y="730.7" font-size="12.8" text-anchor="middle" font-weight="normal" fill="#111">0</text>
<line x1="481.58" y1="711.5" x2="481.58" y2="715.5" stroke="#3c3c3c" stroke-width="1.15"/>
<text x="481.58" y="730.7" font-size="12.8" text-anchor="middle" font-weight="normal" fill="#111">200</text>
<line x1="527.96" y1="711.5" x2="527.96" y2="715.5" stroke="#3c3c3c" stroke-width="1.15"/>
<text x="527.96" y="730.7" font-size="12.8" text-anchor="middle" font-weight="normal" fill="#111">400</text>
<line x1="574.34" y1="711.5" x2="574.34" y2="715.5" stroke="#3c3c3c" stroke-width="1.15"/>
<text x="574.34" y="730.7" font-size="12.8" text-anchor="middle" font-weight="normal" fill="#111">600</text>
<line x1="620.72" y1="711.5" x2="620.72" y2="715.5" stroke="#3c3c3c" stroke-width="1.15"/>
<text x="620.72" y="730.7" font-size="12.8" text-anchor="middle" font-weight="normal" fill="#111">800</text>
<line x1="667.1" y1="711.5" x2="667.1" y2="715.5" stroke="#3c3c3c" stroke-width="1.15"/>
<text x="667.1" y="730.7" font-size="12.8" text-anchor="middle" font-weight="normal" fill="#111">1000</text>
<line x1="458.39" y1="711.5" x2="458.39" y2="713.7" stroke="#3c3c3c" stroke-width="1.15"/>
<line x1="504.77" y1="711.5" x2="504.77" y2="713.7" stroke="#3c3c3c" stroke-width="1.15"/>
<line x1="551.15" y1="711.5" x2="551.15" y2="713.7" stroke="#3c3c3c" stroke-width="1.15"/>
<line x1="597.53" y1="711.5" x2="597.53" y2="713.7" stroke="#3c3c3c" stroke-width="1.15"/>
<line x1="643.91" y1="711.5" x2="643.91" y2="713.7" stroke="#3c3c3c" stroke-width="1.15"/>
<text x="554.7" y="748.9" font-size="13.1" text-anchor="middle" font-weight="normal" fill="#111">Time (h)</text>
<text x="398.2" y="611.3" font-size="12.8" text-anchor="middle" font-weight="normal" fill="#111" transform="rotate(-90 398.2 611.3)">Normalized PCE</text>
<line x1="607.3" y1="533.8" x2="627.4" y2="533.8" stroke="#111" stroke-width="1.1"/>
<circle cx="617.5" cy="533.8" r="2.6" fill="url(#gB)"/>
<text x="632.2" y="537" font-size="10.8" text-anchor="start" font-weight="normal" fill="#111">Sn-2X</text>
<line x1="607.3" y1="548" x2="627.4" y2="548" stroke="#e31e24" stroke-width="1.1"/>
<circle cx="617.5" cy="548" r="2.6" fill="url(#gR)"/>
<text x="632.2" y="551.3" font-size="10.8" text-anchor="start" font-weight="normal" fill="#111">Sn-3X</text>
</svg></body></html>
